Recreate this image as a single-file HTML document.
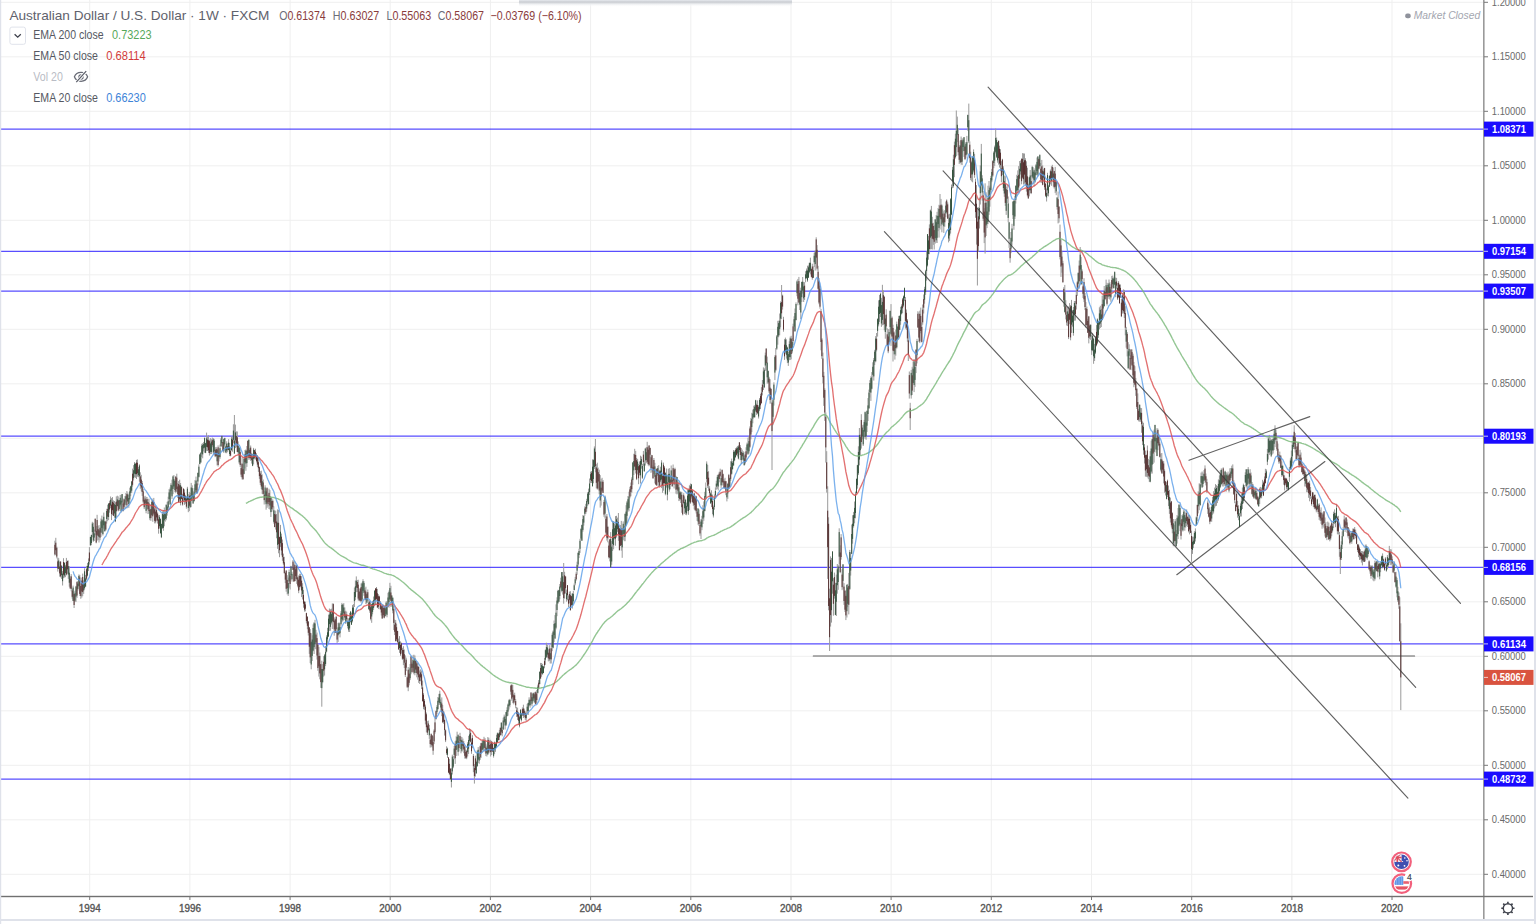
<!DOCTYPE html>
<html><head><meta charset="utf-8">
<style>
html,body{margin:0;padding:0;background:#fff;overflow:hidden}
body{width:1536px;height:924px;position:relative;font-family:"Liberation Sans",sans-serif}
svg{position:absolute;left:0;top:0}
</style></head><body>
<svg width="1536" height="924" viewBox="0 0 1536 924">
<path d="M0 874.3H1484.0 M0 819.8H1484.0 M0 765.3H1484.0 M0 710.8H1484.0 M0 656.3H1484.0 M0 601.8H1484.0 M0 547.3H1484.0 M0 492.8H1484.0 M0 438.3H1484.0 M0 383.8H1484.0 M0 329.3H1484.0 M0 274.8H1484.0 M0 220.3H1484.0 M0 165.8H1484.0 M0 111.3H1484.0 M0 56.8H1484.0 M0 2.3H1484.0 M89.7 0V896.5 M189.9 0V896.5 M290.1 0V896.5 M390.2 0V896.5 M490.4 0V896.5 M590.6 0V896.5 M690.8 0V896.5 M791.0 0V896.5 M891.1 0V896.5 M991.3 0V896.5 M1091.5 0V896.5 M1191.7 0V896.5 M1291.9 0V896.5 M1392.0 0V896.5" stroke="#efefef" stroke-width="1" fill="none"/>
<path d="M0 129.1H1484.0 M0 251.3H1484.0 M0 291.1H1484.0 M0 436.2H1484.0 M0 567.4H1484.0 M0 643.9H1484.0 M0 779.1H1484.0" stroke="#2a1cff" stroke-width="1.3" fill="none" opacity="0.78"/>
<path d="M54.9 540.7V555.5M55.8 537.8V555.0M56.8 546.7V558.4M57.8 557.5V571.6M58.7 558.2V569.1M59.7 561.7V576.7M60.6 561.5V577.4M61.6 565.6V578.9M62.6 571.1V585.5M63.5 558.2V578.2M64.5 562.5V577.5M65.4 564.9V577.2M66.4 557.9V575.4M67.4 560.5V573.7M68.3 560.5V578.9M69.3 566.2V586.7M70.2 576.3V589.0M71.2 574.1V591.3M72.2 589.1V598.7M73.1 585.6V601.0M74.1 591.6V608.0M75.0 590.6V602.1M76.0 585.8V601.9M77.0 581.3V597.9M77.9 581.0V590.6M78.9 574.5V586.7M79.8 574.9V595.9M80.8 583.2V598.8M81.8 577.6V597.6M82.7 573.6V596.2M83.7 580.4V593.9M84.6 568.3V589.6M85.6 574.9V586.9M86.6 565.9V580.2M87.5 562.9V576.4M88.5 558.4V571.1M89.4 547.1V564.6M90.4 536.8V545.9M91.4 534.8V545.2M92.3 521.8V537.2M93.3 522.7V541.8M94.2 529.5V541.0M95.2 518.3V535.3M96.2 526.0V543.3M97.1 514.8V540.7M98.1 526.0V540.0M99.0 525.0V542.5M100.0 527.3V540.3M101.0 518.5V536.9M101.9 515.6V532.9M102.9 519.4V535.5M103.8 512.6V528.6M104.8 521.0V531.6M105.8 520.7V530.6M106.7 508.8V523.6M107.7 504.7V521.2M108.6 503.2V520.0M109.6 500.7V512.7M110.6 496.5V508.2M111.5 498.1V520.1M112.5 497.1V514.9M113.4 500.4V515.9M114.4 501.0V517.7M115.4 502.3V522.1M116.3 496.4V517.3M117.3 495.7V506.5M118.2 496.4V511.4M119.2 499.8V510.7M120.2 494.9V506.5M121.1 494.9V512.6M122.1 494.0V504.4M123.0 501.8V511.6M124.0 498.3V508.7M125.0 496.0V508.7M125.9 493.0V502.5M126.9 491.0V508.4M127.8 492.6V501.6M128.8 494.5V507.8M129.8 487.7V503.4M130.7 485.8V496.2M131.7 480.9V492.8M132.6 468.6V486.6M133.6 465.1V480.5M134.6 462.0V477.3M135.5 463.4V477.8M136.5 459.9V479.0M137.4 459.4V476.7M138.4 466.9V477.2M139.4 464.3V481.7M140.3 472.3V488.8M141.3 474.8V491.4M142.2 481.0V495.9M143.2 488.9V503.3M144.2 496.6V509.1M145.1 495.8V505.2M146.1 496.8V513.3M147.0 497.0V510.0M148.0 498.9V514.1M149.0 498.7V513.7M149.9 508.6V520.2M150.9 504.2V520.8M151.8 498.5V516.1M152.8 500.2V521.8M153.8 497.9V515.0M154.7 508.0V523.4M155.7 505.6V523.3M156.6 508.2V520.7M157.6 512.4V523.6M158.6 515.3V533.7M159.5 515.1V528.5M160.5 518.4V533.8M161.4 523.8V538.1M162.4 511.3V528.9M163.4 510.2V530.8M164.3 507.5V526.3M165.3 512.2V521.6M166.2 504.3V520.2M167.2 501.8V515.6M168.2 496.7V510.4M169.1 489.1V502.2M170.1 487.5V504.8M171.0 483.0V494.3M172.0 479.6V499.0M173.0 475.6V494.2M173.9 475.1V487.5M174.9 480.5V492.1M175.8 476.2V493.2M176.8 473.7V492.0M177.8 483.2V498.1M178.7 481.1V502.2M179.7 479.7V501.4M180.6 483.0V505.4M181.6 486.3V499.3M182.6 493.8V505.6M183.5 488.3V501.7M184.5 489.4V504.8M185.4 494.8V503.7M186.4 496.3V508.7M187.4 486.8V500.7M188.3 494.2V512.2M189.3 491.9V511.1M190.2 492.8V507.9M191.2 482.9V507.2M192.2 485.3V500.9M193.1 491.0V503.9M194.1 488.1V501.4M195.0 480.1V493.1M196.0 476.6V492.5M197.0 479.9V493.6M197.9 472.8V485.3M198.9 464.4V477.5M199.8 453.8V464.5M200.8 452.1V462.6M201.8 443.8V456.9M202.7 443.2V458.3M203.7 441.9V451.4M204.6 437.4V452.8M205.6 442.8V453.2M206.6 432.6V450.9M207.5 436.9V451.0M208.5 435.3V452.9M209.4 439.6V455.6M210.4 438.1V454.2M211.4 439.2V454.0M212.3 437.6V447.2M213.3 438.1V453.9M214.2 438.9V454.7M215.2 447.2V457.2M216.2 446.9V456.7M217.1 448.6V465.4M218.1 445.4V466.5M219.0 448.9V461.4M220.0 444.6V458.8M221.0 438.0V446.5M221.9 435.8V446.6M222.9 442.1V451.4M223.8 438.6V452.9M224.8 437.7V446.4M225.8 445.4V453.2M226.7 441.3V453.2M227.7 443.3V452.1M228.6 439.1V450.3M229.6 442.9V456.1M230.6 448.1V456.3M231.5 436.3V450.4M232.5 437.3V451.7M233.4 424.3V443.3M234.4 415.0V453.8M235.4 424.6V448.1M236.3 431.4V447.2M237.3 431.5V452.0M238.2 441.4V454.9M239.2 447.3V463.8M240.2 448.9V466.9M241.1 463.6V476.9M242.1 457.4V479.5M243.0 464.3V479.5M244.0 456.6V474.3M245.0 450.0V468.4M245.9 449.4V470.8M246.9 446.0V466.9M247.8 440.3V456.8M248.8 439.6V459.8M249.8 448.1V459.5M250.7 445.5V460.9M251.7 452.9V463.6M252.6 453.8V466.2M253.6 447.9V464.4M254.6 449.9V459.3M255.5 448.7V459.5M256.5 453.2V462.4M257.4 455.3V466.9M258.4 457.0V471.9M259.4 466.5V478.9M260.3 471.2V485.0M261.3 470.7V489.1M262.2 474.4V493.9M263.2 479.5V494.8M264.2 490.9V504.5M265.1 485.3V502.2M266.1 489.3V509.7M267.0 487.2V507.9M268.0 494.6V506.5M269.0 488.7V509.0M269.9 490.1V509.5M270.9 497.2V517.0M271.8 498.2V512.0M272.8 499.5V510.4M273.8 506.3V523.6M274.7 510.5V527.3M275.7 510.7V529.6M276.6 514.0V538.3M277.6 509.4V548.8M278.6 510.0V553.3M279.5 536.7V557.2M280.5 524.9V546.9M281.4 533.6V555.3M282.4 539.5V560.8M283.4 553.6V564.8M284.3 556.8V573.6M285.3 571.9V583.1M286.2 570.5V591.7M287.2 575.2V594.4M288.2 577.6V595.9M289.1 569.5V587.8M290.1 573.8V589.5M291.0 565.8V579.6M292.0 571.8V581.6M293.0 559.9V570.0M293.9 563.7V581.8M294.9 561.2V581.3M295.8 567.0V579.0M296.8 565.0V583.9M297.8 576.8V587.3M298.7 575.5V593.2M299.7 573.8V589.8M300.6 573.9V587.3M301.6 576.2V597.1M302.6 583.2V599.5M303.5 589.9V607.7M304.5 600.9V611.6M305.4 601.7V611.4M306.4 612.7V623.4M307.4 616.0V629.2M308.3 621.2V635.5M309.3 627.0V653.9M310.2 629.1V663.1M311.2 633.2V669.3M312.2 635.3V661.0M313.1 624.4V651.3M314.1 622.0V654.0M315.0 619.8V649.2M316.0 629.8V649.1M317.0 632.6V659.6M317.9 643.6V670.8M318.9 647.0V676.6M319.8 652.5V679.3M320.8 664.0V687.9M321.8 660.7V706.7M322.7 664.1V683.2M323.7 656.1V676.6M324.6 653.9V675.5M325.6 645.9V666.1M326.6 635.3V652.4M327.5 627.8V642.9M328.5 614.7V637.1M329.4 608.5V630.9M330.4 609.2V630.7M331.4 608.7V624.5M332.3 603.4V629.0M333.3 603.4V622.4M334.2 617.3V635.7M335.2 618.6V633.0M336.2 616.2V633.1M337.1 630.9V642.9M338.1 622.9V641.9M339.0 622.3V634.5M340.0 623.2V637.4M341.0 611.1V625.7M341.9 602.9V622.4M342.9 604.0V621.4M343.8 603.1V615.9M344.8 607.4V620.2M345.8 610.7V624.0M346.7 611.7V621.2M347.7 618.2V628.4M348.6 618.4V631.8M349.6 612.9V632.0M350.6 610.9V622.4M351.5 612.7V624.8M352.5 605.1V622.4M353.4 604.1V615.8M354.4 587.5V607.0M355.4 580.5V600.3M356.3 576.4V592.2M357.3 580.1V592.0M358.2 579.7V600.5M359.2 590.9V600.7M360.2 588.5V601.6M361.1 583.4V602.6M362.1 582.5V601.0M363.0 579.2V593.0M364.0 581.2V595.8M365.0 588.1V600.5M365.9 586.7V604.1M366.9 593.3V603.5M367.8 589.5V601.0M368.8 599.7V609.4M369.8 600.9V612.8M370.7 603.1V620.4M371.7 603.9V622.8M372.6 600.8V614.3M373.6 596.5V609.9M374.6 590.5V606.3M375.5 588.2V605.0M376.5 587.0V599.7M377.4 588.9V607.7M378.4 594.2V609.1M379.4 595.7V604.8M380.3 601.0V609.7M381.3 605.7V615.5M382.2 604.2V618.9M383.2 604.4V617.3M384.2 605.4V618.4M385.1 605.4V616.5M386.1 601.5V615.6M387.0 601.1V617.3M388.0 592.8V606.8M389.0 590.5V607.7M389.9 582.8V599.8M390.9 585.8V606.9M391.8 595.3V606.6M392.8 597.6V613.3M393.8 605.8V630.1M394.7 619.6V635.1M395.7 620.0V641.6M396.6 623.8V641.2M397.6 630.8V643.5M398.6 638.6V649.5M399.5 636.1V652.9M400.5 641.4V655.9M401.4 642.6V653.6M402.4 647.8V659.9M403.4 646.2V665.1M404.3 649.5V668.0M405.3 655.4V677.0M406.2 657.6V671.1M407.2 676.4V688.0M408.2 667.0V691.2M409.1 669.2V685.4M410.1 664.0V680.1M411.0 655.8V674.3M412.0 661.7V672.6M413.0 655.3V670.7M413.9 654.7V674.3M414.9 655.5V675.3M415.8 660.6V672.9M416.8 661.4V677.3M417.8 663.0V679.7M418.7 666.5V682.9M419.7 670.5V684.0M420.6 669.3V681.3M421.6 670.6V689.0M422.6 680.6V701.6M423.5 693.1V709.3M424.5 699.1V709.8M425.4 704.6V724.4M426.4 712.5V732.4M427.4 721.2V735.0M428.3 720.6V731.3M429.3 724.9V738.9M430.2 735.9V747.6M431.2 733.4V747.1M432.2 735.3V747.5M433.1 736.4V754.8M434.1 729.3V744.1M435.0 718.1V733.6M436.0 710.6V719.6M437.0 705.1V714.1M437.9 697.0V709.6M438.9 693.9V705.1M439.8 690.7V704.9M440.8 699.4V710.6M441.8 697.4V716.2M442.7 705.0V723.1M443.7 711.2V723.8M444.6 719.8V735.6M445.6 729.4V742.1M446.6 746.3V754.9M447.5 747.6V757.9M448.5 757.3V772.9M449.4 758.9V775.1M450.4 768.4V779.8M451.4 768.3V787.5M452.3 754.7V774.5M453.3 756.0V768.2M454.2 745.9V759.3M455.2 741.3V763.9M456.2 736.3V756.0M457.1 731.7V749.4M458.1 734.2V755.7M459.0 736.2V751.5M460.0 732.8V744.1M461.0 736.7V753.3M461.9 737.0V751.9M462.9 738.6V748.4M463.8 741.1V753.2M464.8 746.1V758.6M465.8 749.6V758.9M466.7 749.9V759.2M467.7 742.2V756.4M468.6 735.8V754.0M469.6 728.5V745.7M470.6 729.4V742.3M471.5 738.5V753.8M472.5 735.2V748.2M473.4 754.1V772.2M474.4 764.2V783.6M475.4 755.7V776.6M476.3 760.6V774.0M477.3 750.2V766.7M478.2 747.1V763.0M479.2 753.2V763.8M480.2 745.5V759.8M481.1 742.8V757.8M482.1 740.9V752.7M483.0 739.4V749.7M484.0 736.8V752.2M485.0 738.1V751.0M485.9 743.7V756.1M486.9 745.6V756.5M487.8 737.1V755.0M488.8 737.7V753.5M489.8 742.3V751.4M490.7 739.8V756.5M491.7 741.2V755.0M492.6 742.1V751.8M493.6 747.6V757.6M494.6 741.5V754.2M495.5 742.7V751.8M496.5 734.8V747.7M497.4 732.5V742.7M498.4 732.9V740.6M499.4 729.9V740.2M500.3 727.4V735.3M501.3 722.2V735.1M502.2 726.7V736.3M503.2 717.7V730.0M504.2 714.6V722.8M505.1 716.1V729.5M506.1 711.9V726.0M507.0 707.3V716.2M508.0 703.5V715.7M509.0 699.4V709.6M509.9 698.8V707.3M510.9 684.7V694.7M511.8 684.0V700.7M512.8 684.9V703.2M513.8 693.8V704.4M514.7 692.7V702.4M515.7 699.1V708.3M516.6 707.0V716.9M517.6 707.7V720.0M518.6 712.0V724.6M519.5 715.6V727.4M520.5 709.1V719.2M521.4 712.9V721.6M522.4 707.4V716.0M523.4 704.7V718.0M524.3 708.6V717.0M525.3 711.6V720.1M526.2 711.3V720.9M527.2 703.9V714.5M528.2 702.8V715.0M529.1 697.3V706.3M530.1 699.1V707.7M531.0 692.3V705.0M532.0 694.2V706.3M533.0 692.7V702.6M533.9 692.6V700.0M534.9 691.9V703.4M535.8 691.4V704.4M536.8 689.9V702.8M537.8 684.6V693.6M538.7 680.1V689.5M539.7 671.7V684.5M540.6 662.9V678.8M541.6 663.0V676.8M542.6 663.9V674.8M543.5 666.1V673.1M544.5 657.9V668.3M545.4 649.4V664.8M546.4 642.7V658.0M547.4 644.8V657.4M548.3 649.5V661.4M549.3 645.2V661.0M550.2 648.3V663.5M551.2 642.7V663.5M552.2 633.2V651.2M553.1 630.5V648.3M554.1 620.5V642.1M555.0 615.1V639.0M556.0 604.4V629.3M557.0 597.3V616.2M557.9 589.8V604.0M558.9 589.9V601.9M559.8 584.0V599.3M560.8 577.7V588.6M561.8 572.1V592.3M562.7 572.0V594.6M563.7 563.0V603.7M564.6 571.8V598.6M565.6 576.3V593.5M566.6 589.6V601.7M567.5 585.1V600.3M568.5 595.5V607.0M569.4 591.6V603.4M570.4 591.2V610.8M571.4 595.8V606.2M572.3 593.1V608.6M573.3 590.9V603.8M574.2 583.5V590.4M575.2 576.9V585.3M576.2 571.7V580.6M577.1 561.7V574.8M578.1 552.5V566.9M579.0 548.7V558.1M580.0 538.8V552.9M581.0 528.2V540.5M581.9 524.6V540.9M582.9 515.2V531.7M583.8 515.7V525.6M584.8 506.4V515.9M585.8 503.8V514.1M586.7 498.8V511.6M587.7 492.2V505.8M588.6 488.6V504.6M589.6 478.5V495.0M590.6 471.7V483.1M591.5 471.0V483.0M592.5 459.4V486.3M593.4 459.4V483.3M594.4 446.4V469.0M595.4 439.0V472.3M596.3 464.1V488.4M597.3 462.7V489.6M598.2 467.6V488.7M599.2 469.7V494.3M600.2 475.1V507.6M601.1 478.8V505.6M602.1 477.8V492.1M603.0 480.0V493.2M604.0 500.1V516.8M605.0 495.5V518.5M605.9 515.7V534.4M606.9 514.0V540.6M607.8 525.9V542.3M608.8 541.4V558.5M609.8 538.9V561.4M610.7 532.1V567.6M611.7 541.0V564.8M612.6 520.7V551.0M613.6 521.3V549.3M614.6 523.7V539.4M615.5 516.1V545.7M616.5 515.8V537.6M617.4 517.6V531.9M618.4 513.0V540.8M619.4 528.2V550.4M620.3 525.0V546.1M621.3 520.9V550.7M622.2 527.9V557.8M623.2 521.4V539.9M624.2 525.9V541.2M625.1 513.7V541.2M626.1 505.2V525.9M627.0 500.9V522.9M628.0 496.0V511.6M629.0 491.7V511.3M629.9 486.8V498.4M630.9 482.5V496.3M631.8 477.3V492.8M632.8 462.1V484.8M633.8 453.8V475.0M634.7 448.8V467.1M635.7 450.9V473.5M636.6 458.0V480.1M637.6 458.9V474.5M638.6 463.8V484.2M639.5 461.4V475.4M640.5 455.7V483.5M641.4 456.6V468.7M642.4 463.9V478.9M643.4 450.9V465.7M644.3 460.4V472.0M645.3 448.0V465.5M646.2 447.2V463.1M647.2 441.8V463.5M648.2 446.4V465.5M649.1 445.3V466.3M650.1 447.6V457.9M651.0 454.7V472.9M652.0 455.2V471.7M653.0 465.5V478.7M653.9 458.0V474.0M654.9 462.8V483.4M655.8 473.1V485.1M656.8 468.5V485.7M657.8 465.9V476.0M658.7 465.2V486.9M659.7 469.9V487.3M660.6 466.7V482.1M661.6 460.2V488.1M662.6 473.7V492.8M663.5 462.6V490.7M664.5 466.1V483.9M665.4 472.4V495.3M666.4 468.5V487.6M667.4 475.5V500.4M668.3 468.8V487.7M669.3 468.1V491.7M670.2 475.8V489.3M671.2 465.5V484.0M672.2 476.7V486.8M673.1 464.5V483.5M674.1 468.4V488.5M675.0 467.7V478.0M676.0 475.9V493.7M677.0 477.0V494.4M677.9 482.0V493.7M678.9 481.5V501.1M679.8 491.1V500.6M680.8 491.4V503.0M681.8 492.1V512.8M682.7 499.9V515.4M683.7 493.3V504.3M684.6 496.4V513.9M685.6 498.8V514.7M686.6 502.6V515.2M687.5 489.4V511.1M688.5 489.1V514.8M689.4 485.3V510.1M690.4 483.5V503.9M691.4 483.9V498.6M692.3 489.3V502.7M693.3 495.4V506.0M694.2 492.7V509.4M695.2 495.6V510.9M696.2 495.8V513.5M697.1 508.1V520.9M698.1 508.4V524.8M699.0 509.5V526.0M700.0 520.5V535.7M701.0 519.1V539.0M701.9 515.8V530.2M702.9 505.2V524.0M703.8 501.4V520.8M704.8 491.8V511.2M705.8 482.5V499.5M706.7 461.4V482.4M707.7 464.9V487.9M708.6 471.2V490.9M709.6 486.2V496.4M710.6 492.4V503.6M711.5 490.3V507.1M712.5 494.6V514.2M713.4 505.6V517.5M714.4 494.5V509.7M715.4 487.4V498.7M716.3 480.7V489.7M717.3 475.2V488.9M718.2 474.2V490.4M719.2 471.8V482.3M720.2 468.7V477.5M721.1 475.6V487.9M722.1 469.3V485.6M723.0 473.6V484.9M724.0 479.0V488.5M725.0 477.8V488.5M725.9 481.1V495.2M726.9 488.8V501.4M727.8 482.8V498.9M728.8 473.9V489.5M729.8 477.6V488.1M730.7 461.2V480.9M731.7 458.6V474.7M732.6 461.2V469.8M733.6 450.0V465.6M734.6 450.6V461.2M735.5 448.2V457.9M736.5 447.3V455.6M737.4 446.1V456.5M738.4 445.2V459.4M739.4 442.1V452.2M740.3 445.1V460.1M741.3 448.0V464.0M742.2 449.6V459.8M743.2 451.2V461.0M744.2 455.7V465.5M745.1 451.8V464.4M746.1 447.3V461.6M747.0 442.6V454.5M748.0 437.7V454.8M749.0 436.0V453.7M749.9 426.4V447.9M750.9 417.9V439.4M751.8 412.8V432.1M752.8 409.6V423.3M753.8 405.7V417.5M754.7 405.2V417.6M755.7 399.8V411.9M756.6 403.7V414.9M757.6 400.4V414.2M758.6 405.5V418.5M759.5 398.1V411.1M760.5 393.9V409.1M761.4 387.2V403.7M762.4 380.0V395.4M763.4 367.4V390.0M764.3 368.3V388.1M765.3 352.6V370.8M766.2 348.2V370.6M767.2 356.6V383.6M768.2 370.5V383.7M769.1 376.8V393.2M770.1 379.2V403.7M771.0 388.4V403.4M772.0 401.8V470.0M773.0 399.4V425.2M773.9 382.3V405.6M774.9 355.3V380.1M775.8 348.0V371.1M776.8 335.0V349.9M777.8 320.8V344.7M778.7 320.7V337.3M779.7 313.5V335.3M780.6 301.4V327.3M781.6 285.0V319.1M782.6 294.7V309.6M783.5 316.8V331.7M784.5 339.2V359.9M785.4 337.6V353.6M786.4 339.3V358.6M787.4 346.7V363.1M788.3 352.0V365.9M789.3 341.3V360.2M790.2 336.6V360.0M791.2 335.8V359.4M792.2 338.0V353.4M793.1 323.7V345.1M794.1 316.3V331.4M795.0 308.5V332.0M796.0 302.4V320.5M797.0 280.4V296.2M797.9 278.9V305.3M798.9 276.9V302.8M799.8 291.8V310.0M800.8 287.7V319.0M801.8 281.8V302.0M802.7 277.0V293.6M803.7 282.1V302.0M804.6 282.2V300.0M805.6 271.2V282.3M806.6 268.5V278.5M807.5 265.7V281.8M808.5 265.5V277.7M809.4 262.5V273.2M810.4 257.7V274.4M811.4 268.4V277.1M812.3 263.7V279.7M813.3 266.3V278.0M814.2 252.8V267.1M815.2 250.4V270.6M816.2 237.3V258.1M817.1 245.1V270.5M818.1 265.8V289.5M819.0 278.0V304.2M820.0 285.9V308.7M821.0 308.9V350.3M821.9 338.1V358.9M822.9 352.6V383.4M823.8 371.9V405.9M824.8 388.3V420.9M825.8 412.5V462.6M826.7 451.2V492.6M827.7 486.3V578.9M828.6 517.3V610.3M829.6 588.7V651.0M830.6 556.4V626.6M831.5 558.0V622.6M832.5 551.3V593.7M833.4 578.1V615.7M834.4 572.6V598.6M835.4 582.8V615.1M836.3 574.6V616.0M837.3 564.0V593.7M838.2 564.7V589.8M839.2 528.3V564.2M840.2 545.3V573.2M841.1 534.1V559.6M842.1 569.2V590.2M843.0 564.0V588.8M844.0 583.1V604.9M845.0 589.9V612.0M845.9 594.6V620.1M846.9 584.4V617.5M847.8 583.9V607.1M848.8 572.9V614.4M849.8 549.9V589.9M850.7 552.4V575.6M851.7 524.5V554.0M852.6 515.2V543.7M853.6 511.9V527.6M854.6 501.5V523.3M855.5 491.6V518.3M856.5 478.4V494.4M857.4 464.8V488.7M858.4 446.3V475.1M859.4 428.0V465.4M860.3 434.6V455.1M861.3 414.2V448.6M862.2 425.2V439.3M863.2 424.6V446.0M864.2 419.9V437.4M865.1 411.5V438.8M866.1 414.1V439.8M867.0 410.3V432.0M868.0 398.1V421.0M869.0 389.6V408.7M869.9 380.1V397.6M870.9 376.3V400.9M871.8 372.1V389.4M872.8 362.3V377.4M873.8 358.0V380.6M874.7 349.8V365.1M875.7 336.1V362.3M876.6 333.0V351.4M877.6 318.3V336.6M878.6 300.3V326.4M879.5 294.9V321.9M880.5 292.7V317.0M881.4 297.9V326.9M882.4 284.8V325.3M883.4 290.3V324.8M884.3 295.9V330.3M885.3 315.2V338.7M886.2 309.3V329.7M887.2 328.3V345.6M888.2 329.2V353.2M889.1 329.3V343.2M890.1 310.4V333.2M891.0 304.1V345.9M892.0 316.4V336.8M893.0 324.7V361.5M893.9 331.3V354.4M894.9 342.6V359.6M895.8 329.6V355.7M896.8 321.6V348.5M897.8 326.4V340.2M898.7 315.9V337.6M899.7 315.7V330.0M900.6 306.8V324.8M901.6 304.3V314.5M902.6 298.0V313.2M903.5 295.5V306.8M904.5 287.5V301.1M905.4 297.0V328.6M906.4 309.5V329.8M907.4 319.1V341.7M908.3 330.4V361.0M909.3 371.5V398.6M910.2 402.8V430.0M911.2 369.9V398.6M912.2 366.8V395.0M913.1 361.4V383.3M914.1 359.0V392.1M915.0 363.2V386.9M916.0 349.4V373.1M917.0 338.9V363.4M917.9 311.2V327.7M918.9 312.4V341.9M919.8 310.7V343.1M920.8 307.6V333.3M921.8 322.5V342.5M922.7 304.5V324.7M923.7 294.5V313.5M924.6 286.8V303.7M925.6 269.8V294.9M926.6 251.3V280.7M927.5 234.1V266.5M928.5 235.9V259.7M929.4 224.4V254.2M930.4 209.6V249.4M931.4 205.9V249.2M932.3 216.8V249.5M933.3 222.8V244.9M934.2 225.4V249.5M935.2 219.3V243.6M936.2 215.1V242.7M937.1 211.8V243.0M938.1 208.0V231.2M939.0 204.8V237.6M940.0 194.0V229.5M941.0 198.9V226.1M941.9 204.5V232.3M942.9 209.4V225.1M943.8 211.3V232.9M944.8 210.1V226.8M945.8 201.5V217.2M946.7 199.4V213.5M947.7 202.4V219.0M948.6 214.4V242.4M949.6 213.8V240.9M950.6 198.2V233.6M951.5 184.5V215.1M952.5 167.0V188.2M953.4 154.7V187.6M954.4 141.6V177.2M955.4 133.7V158.6M956.3 110.5V156.2M957.3 116.6V142.1M958.2 128.2V155.4M959.2 145.3V164.1M960.2 140.7V162.9M961.1 136.5V164.6M962.1 138.4V165.0M963.0 138.6V151.4M964.0 137.0V156.9M965.0 145.4V160.1M965.9 142.0V158.4M966.9 135.9V155.4M967.8 114.6V130.8M968.8 103.6V143.1M969.8 141.4V162.7M970.7 151.7V180.2M971.7 160.7V181.4M972.6 155.9V182.3M973.6 149.4V172.4M974.6 153.8V177.8M975.5 178.7V217.8M976.5 185.1V244.6M977.4 208.6V285.5M978.4 207.2V251.9M979.4 197.5V228.5M980.3 165.4V204.5M981.3 143.9V186.1M982.2 175.2V200.6M983.2 191.0V221.0M984.2 208.2V243.1M985.1 183.3V253.6M986.1 192.3V236.0M987.0 207.1V228.1M988.0 185.7V224.2M989.0 181.0V214.9M989.9 185.7V206.7M990.9 175.9V191.8M991.8 168.9V182.2M992.8 160.3V176.8M993.8 151.3V168.2M994.7 145.6V165.9M995.7 128.6V153.4M996.6 137.5V158.0M997.6 142.2V162.7M998.6 140.4V164.7M999.5 145.7V167.6M1000.5 149.2V171.2M1001.4 161.2V182.3M1002.4 158.8V175.1M1003.4 166.3V190.8M1004.3 175.5V196.8M1005.3 176.2V205.9M1006.2 186.7V214.9M1007.2 184.9V203.0M1008.2 196.5V222.3M1009.1 221.8V247.9M1010.1 242.2V262.7M1011.0 232.0V253.2M1012.0 223.8V245.7M1013.0 201.4V219.0M1013.9 199.7V229.8M1014.9 195.8V219.0M1015.8 185.3V203.5M1016.8 174.8V196.3M1017.8 170.4V193.5M1018.7 166.1V191.6M1019.7 161.0V185.8M1020.6 160.5V174.6M1021.6 158.2V184.3M1022.6 153.1V178.7M1023.5 153.4V184.5M1024.5 153.5V183.7M1025.4 158.2V185.5M1026.4 161.3V191.6M1027.4 167.7V196.5M1028.3 183.7V199.0M1029.3 176.8V196.4M1030.2 170.0V193.3M1031.2 174.9V194.1M1032.2 165.8V177.9M1033.1 167.1V184.0M1034.1 168.4V186.4M1035.0 172.1V182.9M1036.0 163.9V175.5M1037.0 157.5V173.2M1037.9 156.0V176.8M1038.9 158.4V169.5M1039.8 154.3V167.4M1040.8 163.0V182.6M1041.8 159.9V183.1M1042.7 165.4V185.3M1043.7 168.7V181.5M1044.6 167.8V189.8M1045.6 183.4V196.8M1046.6 188.5V201.5M1047.5 172.8V195.9M1048.5 185.1V196.4M1049.4 175.2V187.0M1050.4 169.5V184.4M1051.4 166.2V185.8M1052.3 164.8V179.5M1053.3 167.5V186.5M1054.2 170.8V188.6M1055.2 166.9V193.1M1056.2 181.7V195.2M1057.1 197.0V209.6M1058.1 191.5V223.4M1059.0 206.3V222.6M1060.0 224.6V259.4M1061.0 239.7V276.9M1061.9 250.8V272.7M1062.9 260.8V282.7M1063.8 287.2V306.7M1064.8 284.9V312.6M1065.8 300.2V319.4M1066.7 311.6V325.5M1067.7 306.8V326.1M1068.6 306.6V339.1M1069.6 303.1V324.2M1070.6 305.0V340.3M1071.5 299.9V332.9M1072.5 310.2V326.6M1073.4 307.0V335.7M1074.4 301.0V320.7M1075.4 301.0V320.6M1076.3 289.5V309.5M1077.3 281.2V295.9M1078.2 272.3V289.6M1079.2 260.5V288.7M1080.2 247.0V279.4M1081.1 256.9V284.9M1082.1 269.4V284.0M1083.0 283.9V298.0M1084.0 278.2V302.1M1085.0 293.0V310.1M1085.9 302.1V327.7M1086.9 306.6V326.6M1087.8 318.9V332.8M1088.8 315.9V343.4M1089.8 324.5V339.0M1090.7 324.2V339.9M1091.7 335.1V354.9M1092.6 332.8V351.2M1093.6 337.9V363.8M1094.6 343.9V361.0M1095.5 336.2V353.9M1096.5 325.1V346.4M1097.4 318.4V344.2M1098.4 320.9V337.9M1099.4 307.3V329.3M1100.3 305.7V328.0M1101.3 308.9V327.1M1102.2 295.7V320.3M1103.2 293.2V316.2M1104.2 286.0V306.6M1105.1 288.5V300.2M1106.1 279.6V296.9M1107.0 282.8V305.5M1108.0 283.3V297.4M1109.0 279.5V298.9M1109.9 282.2V299.6M1110.9 284.2V301.8M1111.8 275.9V292.4M1112.8 275.6V287.3M1113.8 277.4V288.5M1114.7 271.4V284.7M1115.7 277.6V297.2M1116.6 277.9V288.7M1117.6 283.0V300.0M1118.6 281.1V298.0M1119.5 283.9V303.9M1120.5 284.5V298.0M1121.4 299.0V317.1M1122.4 293.3V313.6M1123.4 289.4V312.8M1124.3 289.9V318.0M1125.3 306.2V335.3M1126.2 326.9V347.7M1127.2 332.1V356.4M1128.2 342.2V369.2M1129.1 344.3V359.0M1130.1 355.0V369.6M1131.0 349.1V364.4M1132.0 349.4V370.2M1133.0 353.7V378.9M1133.9 361.9V387.2M1134.9 366.2V385.3M1135.8 377.9V395.9M1136.8 388.1V409.0M1137.8 393.4V420.2M1138.7 409.0V421.4M1139.7 404.3V421.7M1140.6 407.8V421.8M1141.6 408.1V432.8M1142.6 421.4V445.1M1143.5 422.8V454.7M1144.5 444.1V463.5M1145.4 450.6V476.6M1146.4 454.5V476.8M1147.4 445.5V477.4M1148.3 458.9V479.2M1149.3 459.9V481.9M1150.2 451.1V482.3M1151.2 440.6V473.5M1152.2 438.7V473.6M1153.1 431.4V464.0M1154.1 429.6V462.6M1155.0 424.9V441.8M1156.0 431.4V452.5M1157.0 428.2V456.2M1157.9 428.6V450.2M1158.9 433.8V446.3M1159.8 442.1V457.5M1160.8 453.6V471.4M1161.8 453.0V474.0M1162.7 460.5V473.6M1163.7 461.1V483.4M1164.6 469.4V492.7M1165.6 481.0V495.5M1166.6 482.2V499.4M1167.5 479.6V497.0M1168.5 485.5V506.1M1169.4 489.8V513.9M1170.4 497.6V522.5M1171.4 500.9V527.5M1172.3 512.3V533.3M1173.3 519.0V546.2M1174.2 524.8V544.8M1175.2 519.1V546.0M1176.2 530.1V546.8M1177.1 515.0V543.6M1178.1 508.0V539.1M1179.0 503.9V526.4M1180.0 505.3V531.2M1181.0 519.9V539.5M1181.9 515.1V529.4M1182.9 514.1V531.5M1183.8 509.5V523.8M1184.8 510.5V530.7M1185.8 512.5V527.5M1186.7 509.5V526.0M1187.7 516.2V527.0M1188.6 515.0V532.4M1189.6 514.9V534.4M1190.6 522.3V532.9M1191.5 530.7V561.7M1192.5 536.6V553.9M1193.4 536.7V548.2M1194.4 531.2V544.1M1195.4 528.4V541.5M1196.3 516.3V525.7M1197.3 504.8V521.0M1198.2 491.2V513.4M1199.2 483.4V510.2M1200.2 483.4V505.5M1201.1 472.6V485.6M1202.1 471.5V488.1M1203.0 472.7V486.8M1204.0 470.1V482.8M1205.0 465.4V480.5M1205.9 473.5V485.4M1206.9 478.8V493.1M1207.8 500.4V513.9M1208.8 504.2V517.5M1209.8 507.1V524.2M1210.7 510.0V521.8M1211.7 503.7V521.8M1212.6 497.0V514.7M1213.6 491.2V513.5M1214.6 487.6V508.4M1215.5 484.1V506.3M1216.5 485.2V505.8M1217.4 486.1V503.1M1218.4 479.4V500.6M1219.4 475.4V494.7M1220.3 470.2V488.2M1221.3 468.4V484.8M1222.2 475.5V486.3M1223.2 467.3V486.6M1224.2 472.2V485.5M1225.1 470.7V486.3M1226.1 472.1V491.7M1227.0 473.0V487.9M1228.0 471.6V489.2M1229.0 474.2V492.4M1229.9 468.3V485.5M1230.9 468.0V480.4M1231.8 465.7V476.5M1232.8 464.4V486.9M1233.8 480.3V495.0M1234.7 482.9V503.2M1235.7 501.5V511.4M1236.6 492.5V507.1M1237.6 500.9V517.7M1238.6 505.3V520.2M1239.5 513.1V527.3M1240.5 503.4V516.5M1241.4 493.4V516.5M1242.4 487.5V509.0M1243.4 483.7V503.4M1244.3 485.1V499.9M1245.3 472.3V482.9M1246.2 469.0V487.4M1247.2 469.0V488.9M1248.2 467.1V483.2M1249.1 472.6V489.2M1250.1 469.2V489.2M1251.0 472.5V486.7M1252.0 482.0V494.7M1253.0 483.9V496.6M1253.9 489.0V498.8M1254.9 488.6V498.4M1255.8 487.8V499.6M1256.8 490.5V500.3M1257.8 495.7V505.3M1258.7 497.3V506.6M1259.7 487.6V504.1M1260.6 486.9V497.8M1261.6 487.6V498.3M1262.6 479.8V493.6M1263.5 481.4V496.1M1264.5 476.5V489.9M1265.4 468.8V483.4M1266.4 469.4V478.2M1267.4 448.9V465.1M1268.3 437.3V459.6M1269.3 434.9V455.1M1270.2 437.7V454.1M1271.2 438.9V457.1M1272.2 439.1V454.5M1273.1 438.3V453.5M1274.1 430.8V450.1M1275.0 425.3V447.1M1276.0 429.8V442.2M1277.0 437.3V451.0M1277.9 443.6V459.2M1278.9 454.0V463.7M1279.8 451.6V463.3M1280.8 455.0V468.2M1281.8 461.3V476.8M1282.7 464.8V476.2M1283.7 471.4V484.7M1284.6 475.4V490.4M1285.6 477.7V485.2M1286.6 477.9V489.4M1287.5 480.2V489.3M1288.5 482.1V490.4M1289.4 466.9V481.8M1290.4 458.3V469.6M1291.4 450.6V469.6M1292.3 442.2V463.4M1293.3 435.8V448.9M1294.2 425.3V449.0M1295.2 433.1V452.5M1296.2 446.7V459.2M1297.1 443.6V459.0M1298.1 442.3V460.6M1299.0 456.6V467.9M1300.0 449.8V467.4M1301.0 452.5V467.3M1301.9 463.3V472.4M1302.9 464.7V474.8M1303.8 466.7V476.4M1304.8 470.0V486.5M1305.8 472.0V486.5M1306.7 474.8V492.2M1307.7 481.6V492.3M1308.6 481.9V497.8M1309.6 480.6V501.3M1310.6 487.0V498.8M1311.5 496.4V505.6M1312.5 491.9V501.7M1313.4 492.3V507.1M1314.4 494.7V509.2M1315.4 494.7V508.8M1316.3 504.8V512.3M1317.3 498.7V510.1M1318.2 503.9V514.0M1319.2 503.3V520.0M1320.2 509.8V521.0M1321.1 507.4V523.9M1322.1 512.4V528.7M1323.0 513.1V526.8M1324.0 511.2V528.3M1325.0 517.5V536.5M1325.9 522.1V538.2M1326.9 528.2V540.2M1327.8 521.6V536.6M1328.8 522.6V539.9M1329.8 526.6V541.3M1330.7 524.7V540.1M1331.7 520.5V536.3M1332.6 523.6V531.6M1333.6 511.7V528.1M1334.6 509.4V524.1M1335.5 512.8V527.2M1336.5 504.5V522.0M1337.4 516.2V534.3M1338.4 515.8V534.5M1339.4 531.9V556.8M1340.3 546.7V574.0M1341.3 541.3V560.0M1342.2 531.4V549.0M1343.2 526.9V536.6M1344.2 515.5V527.7M1345.1 518.2V531.9M1346.1 517.3V528.7M1347.0 519.4V532.8M1348.0 527.1V537.5M1349.0 528.4V539.4M1349.9 530.9V544.4M1350.9 533.9V542.2M1351.8 531.3V543.8M1352.8 528.5V540.1M1353.8 528.4V539.6M1354.7 527.0V535.6M1355.7 529.6V538.4M1356.6 533.0V544.3M1357.6 544.0V552.1M1358.6 543.9V557.1M1359.5 546.7V559.9M1360.5 549.2V559.5M1361.4 551.0V562.6M1362.4 551.1V565.4M1363.4 551.9V562.0M1364.3 550.5V561.8M1365.3 544.7V561.4M1366.2 544.5V558.4M1367.2 546.3V559.7M1368.2 548.6V556.7M1369.1 560.4V569.5M1370.1 564.9V573.7M1371.0 566.4V578.7M1372.0 565.1V575.4M1373.0 568.5V580.4M1373.9 569.3V581.3M1374.9 560.6V580.5M1375.8 561.5V571.4M1376.8 561.3V571.3M1377.8 560.9V577.3M1378.7 562.4V572.4M1379.7 563.0V579.3M1380.6 561.7V572.2M1381.6 555.7V566.1M1382.6 553.4V568.3M1383.5 558.6V567.5M1384.5 563.5V570.7M1385.4 557.2V565.4M1386.4 563.4V571.7M1387.4 555.1V569.4M1388.3 558.1V567.4M1389.3 545.9V563.1M1390.2 549.1V565.2M1391.2 549.4V564.9M1392.2 556.3V565.7M1393.1 563.4V572.6M1394.1 561.3V573.4M1395.0 572.1V582.5M1396.0 571.8V587.7M1397.0 577.8V597.3M1397.9 586.8V602.0M1398.9 592.4V608.8M1399.8 597.3V641.3M1400.8 623.3V710.1" stroke="#9a9a9a" stroke-width="1" fill="none"/>
<path d="M58.7 560.5V568.9M61.6 565.6V575.1M62.6 573.7V581.2M64.5 562.8V575.5M65.4 566.5V573.0M68.3 566.1V574.6M69.3 572.7V582.7M73.1 587.6V600.9M75.0 593.3V600.7M76.0 586.6V596.6M77.9 583.7V588.9M78.9 576.0V585.9M83.7 583.6V590.5M84.6 571.3V588.1M85.6 578.4V586.5M87.5 565.9V575.5M88.5 562.0V567.8M90.4 536.9V545.1M91.4 534.9V543.0M92.3 523.5V532.1M93.3 526.8V540.5M94.2 533.3V537.6M99.0 530.3V537.0M101.0 521.4V532.6M101.9 519.6V527.9M102.9 520.6V534.1M103.8 516.8V525.3M104.8 521.5V531.2M106.7 511.0V519.0M108.6 503.6V517.0M110.6 499.8V505.6M114.4 504.2V513.5M115.4 505.0V521.2M117.3 499.4V506.0M119.2 500.1V508.9M120.2 497.8V504.6M121.1 500.6V511.1M122.1 494.1V502.6M125.0 499.5V504.8M125.9 496.3V499.4M127.8 494.5V501.4M128.8 498.0V504.0M129.8 491.4V499.4M130.7 486.4V492.8M131.7 481.5V490.7M133.6 470.2V478.2M134.6 463.7V473.7M135.5 463.7V474.2M138.4 469.2V475.2M139.4 465.5V476.3M146.1 500.2V510.9M149.9 509.9V518.2M151.8 501.9V514.9M159.5 517.1V526.2M160.5 519.1V533.0M161.4 523.9V537.2M162.4 514.1V527.9M163.4 514.7V527.9M164.3 513.6V520.4M165.3 514.2V519.0M166.2 504.9V518.4M167.2 506.6V512.7M168.2 501.3V507.5M169.1 492.4V499.0M170.1 489.6V504.4M171.0 484.8V490.7M172.0 485.4V496.3M173.0 476.5V489.0M173.9 479.2V486.3M174.9 480.9V490.0M180.6 485.3V503.0M185.4 496.0V501.4M187.4 488.7V500.0M188.3 497.8V508.1M190.2 495.4V507.0M191.2 487.5V500.9M192.2 488.2V497.2M193.1 495.1V503.4M194.1 492.3V501.2M195.0 484.3V492.7M196.0 480.7V490.1M197.9 472.8V481.5M198.9 466.7V476.8M199.8 454.6V464.0M200.8 453.1V462.5M201.8 445.7V453.5M202.7 444.9V454.4M203.7 443.9V448.3M204.6 438.1V447.6M205.6 443.2V452.8M206.6 438.4V446.9M210.4 443.4V451.9M211.4 441.6V452.0M213.3 439.4V452.4M214.2 440.7V451.2M217.1 449.6V461.3M219.0 453.2V457.2M220.0 448.1V457.1M221.0 439.6V446.3M221.9 435.9V443.1M223.8 439.1V451.3M224.8 438.1V444.5M225.8 446.4V452.3M226.7 443.6V450.6M228.6 442.6V450.0M229.6 446.6V454.0M231.5 438.8V450.3M233.4 430.6V439.9M234.4 440.6V453.5M235.4 432.4V440.3M238.2 446.0V452.4M239.2 447.6V462.3M244.0 458.8V473.9M245.9 450.7V463.5M246.9 450.6V463.1M248.8 439.7V457.9M252.6 456.7V465.8M253.6 449.6V458.9M262.2 481.2V489.8M265.1 487.5V496.5M266.1 491.4V504.2M270.9 497.6V512.1M273.8 510.3V521.8M277.6 522.7V544.9M280.5 531.7V543.2M288.2 583.0V593.6M289.1 572.0V581.4M291.0 566.4V575.2M292.0 573.9V579.3M302.6 586.9V594.0M311.2 641.7V664.5M312.2 639.5V655.9M313.1 628.0V650.6M314.1 623.2V647.1M315.0 623.5V644.1M321.8 669.0V688.1M322.7 669.1V682.0M324.6 655.3V669.3M325.6 651.8V664.0M326.6 637.3V651.5M327.5 632.3V639.3M328.5 618.7V636.4M329.4 614.5V624.1M330.4 611.9V626.9M331.4 614.1V622.6M332.3 612.0V621.3M338.1 627.4V635.3M339.0 623.3V634.0M340.0 626.9V633.2M341.0 613.4V624.2M341.9 604.8V619.2M342.9 604.6V620.3M343.8 607.5V612.8M345.8 614.7V622.4M347.7 621.1V626.0M348.6 621.6V629.7M349.6 617.7V628.4M350.6 611.7V621.6M351.5 616.2V624.7M352.5 607.7V620.8M353.4 607.5V614.5M354.4 592.0V601.1M355.4 586.3V597.1M356.3 580.7V587.6M362.1 583.5V599.6M363.0 581.2V590.8M364.0 583.1V592.7M366.9 594.2V602.6M368.8 602.6V609.3M371.7 604.3V616.5M372.6 603.3V611.9M373.6 600.2V607.9M374.6 590.6V600.9M385.1 608.4V616.1M386.1 602.7V613.8M387.0 605.9V614.8M388.0 597.5V606.5M389.0 592.2V602.1M389.9 588.1V599.2M391.8 595.5V602.8M392.8 597.7V610.5M399.5 641.6V648.0M410.1 667.6V678.2M413.0 659.8V667.8M414.9 658.4V673.0M429.3 728.6V735.3M437.0 706.9V711.9M437.9 700.8V709.1M438.9 697.6V702.3M439.8 693.8V703.2M440.8 701.9V707.5M447.5 748.7V754.8M451.4 772.7V781.9M452.3 756.6V771.4M453.3 759.2V766.6M454.2 748.6V754.9M456.2 740.6V749.9M457.1 736.9V744.6M458.1 735.2V751.8M461.0 739.8V749.0M461.9 740.4V750.7M467.7 743.9V752.2M468.6 740.0V748.7M469.6 734.4V740.9M476.3 761.9V773.1M477.3 751.6V766.1M478.2 749.8V759.6M479.2 756.9V760.6M482.1 743.2V749.8M483.0 740.5V749.5M484.0 740.7V747.9M486.9 748.0V753.1M487.8 740.4V754.3M493.6 748.0V755.9M494.6 742.5V749.9M495.5 743.9V748.8M496.5 738.1V746.4M497.4 733.3V742.3M499.4 732.4V737.2M501.3 722.8V731.7M503.2 720.5V729.4M504.2 716.7V721.8M505.1 719.0V725.5M506.1 712.1V724.7M507.0 710.1V716.2M508.0 704.6V711.6M509.0 700.4V706.1M509.9 699.9V705.1M519.5 717.2V725.6M520.5 710.1V718.3M521.4 713.5V720.2M526.2 714.3V718.2M527.2 706.7V711.2M528.2 702.9V711.1M529.1 699.8V705.3M530.1 700.3V705.3M532.0 697.2V703.8M533.0 693.5V701.1M534.9 694.4V702.4M537.8 686.7V692.9M539.7 671.7V684.0M541.6 665.1V673.4M542.6 665.9V673.8M543.5 666.7V673.0M545.4 650.2V659.7M546.4 647.1V656.9M547.4 647.5V654.6M550.2 653.2V659.2M552.2 634.9V647.1M553.1 631.7V647.7M554.1 624.0V635.1M555.0 623.1V638.4M556.0 612.7V627.7M557.0 600.6V610.0M557.9 591.0V602.9M558.9 590.1V601.7M559.8 586.6V596.0M561.8 572.1V590.8M562.7 576.3V590.9M566.6 593.2V599.2M572.3 593.7V605.0M573.3 593.9V601.3M574.2 585.3V590.0M575.2 579.3V583.4M577.1 564.8V570.7M578.1 552.9V564.5M579.0 551.0V555.0M580.0 540.8V548.8M581.0 529.1V538.6M581.9 525.1V540.6M582.9 519.1V529.9M583.8 515.8V522.6M584.8 508.6V513.8M586.7 501.0V508.6M587.7 493.7V501.6M588.6 491.9V504.0M589.6 483.5V492.2M590.6 474.2V479.9M592.5 466.7V486.3M593.4 460.1V479.0M594.4 448.5V467.1M600.2 481.5V500.5M605.0 497.2V513.6M610.7 539.0V567.5M611.7 546.7V561.5M612.6 529.3V543.9M613.6 522.7V545.2M614.6 528.2V538.2M615.5 525.5V538.7M616.5 519.3V534.9M617.4 521.5V529.1M622.2 529.2V547.4M623.2 523.8V534.1M624.2 528.6V536.8M625.1 513.8V536.6M626.1 511.6V524.6M627.0 502.5V515.8M628.0 499.2V509.6M629.0 496.5V508.0M632.8 462.6V480.1M633.8 461.0V470.3M637.6 461.6V470.2M640.5 461.0V475.3M641.4 459.1V464.6M642.4 466.0V477.7M644.3 463.6V471.0M645.3 448.7V460.4M646.2 452.2V460.0M654.9 466.4V476.8M657.8 468.1V474.4M660.6 470.7V480.4M661.6 462.6V479.5M665.4 472.9V493.8M666.4 474.8V485.1M667.4 482.4V494.7M668.3 474.2V482.4M669.3 473.8V489.5M671.2 470.4V482.9M677.0 477.0V489.1M678.9 487.3V497.9M680.8 492.4V499.4M684.6 502.0V508.3M685.6 499.9V512.5M686.6 505.9V513.5M687.5 495.6V506.6M688.5 490.3V511.1M689.4 489.2V501.6M691.4 484.4V496.5M698.1 508.6V521.5M701.0 521.7V526.3M701.9 519.5V527.3M702.9 511.2V518.7M703.8 508.1V517.4M704.8 496.1V511.1M705.8 487.8V497.3M706.7 463.7V479.0M710.6 493.4V503.4M711.5 494.7V502.3M713.4 507.3V515.5M714.4 497.8V507.0M715.4 491.0V495.4M716.3 483.6V486.7M717.3 477.1V485.5M718.2 475.0V486.5M721.1 478.0V485.3M726.9 493.1V497.3M727.8 483.9V493.4M729.8 478.2V486.9M731.7 461.5V473.8M732.6 463.0V469.0M733.6 451.8V465.5M734.6 451.8V460.3M735.5 449.9V457.0M737.4 447.8V453.5M738.4 446.5V458.5M741.3 451.9V460.1M743.2 452.7V459.7M744.2 458.4V465.2M747.0 444.5V450.5M748.0 443.6V453.7M749.0 441.1V451.3M751.8 418.8V427.0M752.8 413.6V418.7M753.8 409.1V417.2M754.7 406.7V417.2M755.7 400.3V410.5M758.6 407.1V416.5M759.5 399.9V409.3M763.4 371.4V383.9M764.3 369.9V387.2M765.3 355.4V365.5M767.2 362.6V377.3M768.2 371.1V382.3M773.0 400.2V416.8M773.9 384.6V399.8M774.9 357.1V372.6M776.8 336.4V348.6M777.8 326.8V336.7M778.7 323.1V335.4M779.7 320.7V329.1M780.6 303.0V318.6M785.4 339.6V351.6M786.4 345.2V354.8M787.4 347.6V360.3M788.3 354.1V362.6M789.3 344.1V357.0M790.2 338.4V357.2M792.2 341.8V351.3M794.1 319.2V326.5M795.0 313.0V331.0M796.0 304.0V320.0M797.0 281.5V293.2M799.8 292.8V304.6M800.8 290.7V312.5M801.8 281.9V297.2M802.7 281.7V290.6M803.7 286.4V298.4M805.6 274.3V278.6M806.6 270.5V278.1M807.5 270.6V280.4M808.5 267.3V277.7M809.4 263.1V271.9M810.4 262.8V270.8M813.3 270.2V277.7M814.2 255.8V262.2M815.2 252.3V264.1M831.5 571.7V610.2M832.5 551.5V581.3M835.4 590.3V614.9M836.3 582.9V601.8M837.3 569.3V585.2M838.2 566.6V582.0M839.2 532.1V556.7M843.0 564.5V580.9M846.9 584.9V611.2M847.8 587.5V603.8M849.8 552.0V588.9M850.7 558.0V570.6M851.7 534.0V553.8M852.6 523.7V538.9M853.6 515.1V526.0M854.6 507.9V518.0M855.5 494.7V513.0M856.5 479.0V493.0M857.4 465.2V485.2M858.4 451.9V473.3M859.4 434.9V459.6M860.3 437.1V450.2M862.2 427.6V436.4M863.2 430.1V444.4M864.2 422.1V431.6M865.1 412.2V436.9M866.1 422.5V436.3M867.0 411.1V425.7M868.0 405.4V414.0M869.0 392.6V408.3M869.9 383.0V392.2M870.9 378.1V392.6M871.8 377.4V388.7M872.8 366.8V374.8M873.8 360.2V376.4M874.7 351.7V361.2M875.7 338.6V361.2M877.6 319.1V330.9M878.6 306.7V324.4M879.5 299.9V314.0M880.5 294.0V312.9M881.4 305.1V323.5M882.4 301.9V319.9M885.3 318.5V332.0M889.1 332.1V342.0M890.1 311.0V327.0M891.0 318.5V334.4M894.9 344.7V354.3M896.8 324.2V347.3M897.8 326.6V339.3M899.7 315.8V329.8M900.6 310.2V321.1M901.6 306.3V313.6M903.5 296.5V305.5M904.5 288.1V298.1M911.2 372.9V395.3M913.1 368.7V382.9M914.1 361.3V385.1M915.0 367.0V379.9M917.0 341.0V355.2M924.6 289.2V299.7M925.6 271.3V292.2M926.6 257.6V271.1M927.5 234.2V265.4M928.5 240.4V254.0M930.4 210.6V237.7M931.4 211.5V236.3M935.2 219.4V238.2M936.2 222.2V240.3M937.1 215.8V237.8M938.1 215.8V224.1M939.0 209.0V227.9M941.9 205.6V224.4M943.8 217.3V226.3M945.8 205.6V213.4M948.6 222.9V238.5M949.6 217.7V235.5M950.6 199.2V230.0M951.5 187.3V214.5M952.5 169.8V181.2M953.4 159.3V186.0M955.4 138.7V157.2M956.3 130.8V147.1M957.3 124.8V134.7M960.2 145.5V162.4M962.1 141.4V161.7M963.0 140.0V147.0M964.0 137.3V151.0M965.9 143.7V155.1M966.9 142.1V154.2M967.8 115.0V127.1M968.8 120.2V141.4M971.7 162.3V174.6M972.6 157.3V174.3M973.6 152.0V170.5M979.4 208.1V219.3M980.3 171.4V193.2M981.3 153.6V184.8M982.2 178.4V192.5M986.1 202.6V225.4M987.0 211.5V223.9M988.0 198.0V221.9M989.0 190.1V211.6M989.9 187.7V199.7M990.9 178.0V190.1M991.8 172.0V180.4M993.8 152.6V163.0M994.7 147.3V160.7M995.7 137.9V151.8M996.6 139.9V156.8M997.6 142.3V160.3M1003.4 168.7V188.0M1004.3 181.2V193.5M1006.2 189.1V210.8M1008.2 203.5V217.9M1009.1 222.4V238.8M1011.0 237.8V248.5M1012.0 228.5V241.5M1013.0 201.6V215.2M1013.9 200.9V225.8M1014.9 200.7V216.5M1015.8 185.9V199.9M1016.8 179.1V190.7M1017.8 176.0V190.2M1019.7 168.8V178.7M1020.6 163.2V171.4M1029.3 177.4V190.2M1030.2 175.5V190.3M1032.2 167.1V176.7M1033.1 171.8V178.5M1034.1 170.2V180.1M1035.0 172.7V181.6M1036.0 165.3V175.1M1037.0 161.9V171.0M1037.9 156.7V174.7M1039.8 155.1V166.0M1043.7 171.4V177.8M1046.6 192.9V197.4M1047.5 175.1V190.3M1048.5 186.5V193.3M1049.4 175.9V186.7M1051.4 171.3V181.0M1053.3 173.5V182.3M1056.2 182.0V191.4M1057.1 197.7V207.0M1064.8 292.3V311.9M1067.7 311.4V321.0M1071.5 305.9V324.7M1072.5 315.6V322.4M1073.4 309.9V333.0M1074.4 303.0V314.7M1078.2 273.1V283.7M1080.2 254.7V269.5M1081.1 265.1V284.2M1090.7 325.0V336.6M1091.7 340.4V350.3M1092.6 336.1V350.2M1093.6 338.8V356.3M1094.6 349.6V358.2M1095.5 338.2V352.6M1097.4 319.4V342.8M1098.4 321.7V335.2M1099.4 313.4V324.6M1100.3 309.8V323.6M1101.3 314.4V321.7M1103.2 299.6V308.5M1104.2 290.8V306.1M1106.1 285.2V296.0M1108.0 284.9V296.4M1109.0 283.4V296.4M1110.9 289.5V297.4M1112.8 278.3V284.3M1113.8 278.7V288.2M1114.7 272.1V284.6M1115.7 281.8V294.0M1126.2 329.9V341.7M1128.2 351.3V368.1M1129.1 348.9V355.7M1139.7 404.9V417.2M1140.6 412.6V419.6M1143.5 426.9V450.3M1150.2 456.3V481.7M1151.2 448.5V471.6M1152.2 439.2V464.6M1154.1 437.4V451.8M1155.0 424.9V441.1M1156.0 437.7V449.5M1157.0 437.8V456.0M1160.8 459.2V469.7M1166.6 485.1V498.9M1169.4 496.9V508.9M1173.3 523.3V543.2M1175.2 521.3V540.9M1176.2 534.0V546.0M1177.1 518.2V536.4M1178.1 516.4V534.1M1179.0 504.9V525.6M1180.0 508.1V524.2M1182.9 515.6V530.4M1183.8 511.7V521.8M1184.8 515.1V527.3M1185.8 517.5V523.2M1192.5 541.8V549.9M1193.4 540.7V544.6M1194.4 533.0V543.6M1195.4 531.7V538.4M1196.3 517.4V524.9M1198.2 494.7V506.3M1199.2 492.6V504.0M1200.2 484.4V505.2M1201.1 476.1V482.8M1202.1 476.1V487.2M1203.0 476.5V484.0M1204.0 473.9V480.9M1211.7 506.7V518.5M1212.6 500.5V511.2M1213.6 495.1V511.4M1214.6 493.3V502.3M1215.5 489.0V499.8M1216.5 488.0V500.3M1217.4 491.9V497.4M1218.4 483.9V498.8M1219.4 480.3V490.8M1220.3 474.3V486.8M1221.3 469.9V484.1M1225.1 471.5V481.3M1226.1 475.2V485.8M1227.0 474.5V483.2M1229.0 474.8V490.5M1230.9 471.6V478.1M1231.8 468.3V473.8M1238.6 508.8V516.1M1239.5 516.1V526.8M1240.5 505.9V513.3M1241.4 501.4V510.3M1242.4 492.9V504.0M1243.4 485.2V500.8M1245.3 475.0V482.4M1246.2 469.5V486.1M1247.2 473.8V484.7M1248.2 469.4V478.6M1249.1 473.5V484.2M1251.0 475.5V483.8M1253.0 486.1V496.5M1254.9 491.9V495.3M1255.8 490.7V498.6M1258.7 498.5V506.3M1259.7 489.2V499.1M1261.6 490.5V496.2M1262.6 484.6V491.6M1266.4 471.4V478.2M1267.4 453.9V461.7M1268.3 438.6V452.6M1269.3 440.7V452.3M1270.2 440.7V450.4M1271.2 440.2V455.7M1272.2 440.8V450.4M1273.1 438.9V450.5M1274.1 433.9V443.8M1275.0 429.5V440.1M1281.8 465.7V475.0M1282.7 466.0V475.2M1287.5 481.2V486.9M1288.5 482.2V489.7M1289.4 470.4V476.8M1290.4 460.6V469.0M1291.4 456.8V467.1M1292.3 444.9V456.3M1293.3 435.8V447.0M1305.8 474.0V483.7M1317.3 499.5V509.0M1326.9 528.4V537.0M1329.8 531.1V539.0M1332.6 526.3V530.4M1333.6 513.9V523.2M1334.6 512.9V522.2M1335.5 515.6V522.9M1336.5 508.1V517.9M1341.3 544.8V558.0M1342.2 536.2V544.5M1343.2 529.1V536.1M1350.9 535.7V541.9M1351.8 533.0V541.4M1363.4 554.6V560.5M1365.3 549.4V557.1M1366.2 546.1V557.4M1367.2 548.2V557.7M1368.2 550.3V554.0M1372.0 566.4V574.4M1373.0 570.4V576.8M1373.9 572.0V577.8M1374.9 563.2V578.8M1376.8 561.3V571.1M1379.7 563.6V576.4M1380.6 563.8V568.6M1381.6 556.5V565.0M1382.6 555.9V567.4M1386.4 565.1V570.7M1387.4 557.1V566.4M1388.3 558.5V565.0M1389.3 550.9V560.3M1394.1 563.3V570.6M1396.0 576.6V586.6M1397.0 580.1V593.3M1397.9 591.3V600.3" stroke="#30503a" stroke-width="0.95" fill="none"/>
<path d="M54.9 544.8V554.4M55.8 542.7V550.2M56.8 547.8V556.6M57.8 561.4V568.5M59.7 566.5V573.4M60.6 561.5V576.3M63.5 562.0V574.7M66.4 562.0V574.5M67.4 561.0V569.3M70.2 578.7V588.2M71.2 576.4V588.9M72.2 590.6V596.8M74.1 594.1V605.0M77.0 582.1V595.5M79.8 577.4V593.9M80.8 586.0V596.0M81.8 580.6V591.5M82.7 577.0V592.1M86.6 569.2V578.7M89.4 552.5V561.4M95.2 518.9V531.6M96.2 530.8V542.5M97.1 520.0V534.9M98.1 529.1V536.0M100.0 528.3V537.7M105.8 521.7V529.5M107.7 508.9V516.7M109.6 502.9V509.5M111.5 504.6V514.1M112.5 501.8V510.2M113.4 502.7V515.8M116.3 501.6V511.3M118.2 500.4V510.4M123.0 503.4V510.9M124.0 499.3V506.8M126.9 494.1V505.3M132.6 473.7V484.8M136.5 462.6V474.2M137.4 462.8V473.3M140.3 476.4V485.6M141.3 479.6V487.5M142.2 483.1V492.0M143.2 491.4V501.6M144.2 500.1V507.2M145.1 498.6V503.3M147.0 499.0V505.5M148.0 502.0V509.1M149.0 503.4V511.1M150.9 509.0V518.1M152.8 500.6V516.3M153.8 502.0V513.6M154.7 509.4V520.8M155.7 511.6V521.5M156.6 510.1V517.4M157.6 513.7V520.6M158.6 519.3V528.8M175.8 476.7V491.6M176.8 477.7V489.1M177.8 486.5V494.2M178.7 484.0V502.0M179.7 485.3V499.3M181.6 487.1V499.0M182.6 497.6V504.5M183.5 488.8V497.5M184.5 492.6V500.1M186.4 498.3V506.7M189.3 495.8V505.7M197.0 483.5V493.1M207.5 439.7V447.3M208.5 440.3V450.3M209.4 441.1V453.1M212.3 440.2V445.3M215.2 449.8V456.2M216.2 448.9V455.8M218.1 447.3V465.0M222.9 442.1V450.6M227.7 446.2V449.6M230.6 450.9V455.6M232.5 439.8V447.3M236.3 436.0V443.8M237.3 437.3V451.9M240.2 452.1V465.0M241.1 468.1V474.6M242.1 463.6V477.3M243.0 469.2V479.3M245.0 454.3V462.2M247.8 441.0V456.0M249.8 449.8V457.8M250.7 447.6V458.4M251.7 454.1V460.2M254.6 450.2V457.7M255.5 451.8V456.4M256.5 455.2V461.0M257.4 455.8V464.6M258.4 462.2V468.2M259.4 467.2V476.1M260.3 473.5V482.7M261.3 475.1V486.5M263.2 482.5V493.9M264.2 494.8V500.1M267.0 488.1V502.5M268.0 495.8V504.2M269.0 492.9V502.0M269.9 496.0V505.5M271.8 501.1V509.0M272.8 500.9V507.3M274.7 514.0V527.0M275.7 514.6V523.3M276.6 521.5V532.3M278.6 522.8V544.1M279.5 537.1V550.2M281.4 536.7V550.5M282.4 543.1V557.1M283.4 557.2V563.3M284.3 562.2V573.1M285.3 573.0V579.6M286.2 570.5V588.8M287.2 579.9V588.2M290.1 575.4V584.0M293.0 561.6V569.8M293.9 567.6V581.5M294.9 564.9V581.0M295.8 569.3V576.0M296.8 565.5V579.3M297.8 577.5V585.6M298.7 579.7V590.7M299.7 575.9V587.1M300.6 576.0V585.9M301.6 580.7V590.5M303.5 594.9V603.7M304.5 601.9V609.7M305.4 604.4V608.7M306.4 613.1V621.0M307.4 617.0V625.8M308.3 621.6V632.8M309.3 627.5V646.7M310.2 632.9V657.3M316.0 634.6V642.4M317.0 638.1V655.5M317.9 644.8V668.0M318.9 656.0V666.4M319.8 655.9V673.4M320.8 664.2V682.1M323.7 661.8V670.7M333.3 604.1V621.8M334.2 620.7V629.3M335.2 619.4V632.8M336.2 616.8V629.2M337.1 632.0V639.6M344.8 611.5V617.5M346.7 614.6V619.2M357.3 582.0V588.0M358.2 584.6V598.6M359.2 591.8V600.4M360.2 588.5V600.6M361.1 587.1V601.1M365.0 590.4V598.5M365.9 591.7V600.0M367.8 592.2V598.0M369.8 601.6V610.6M370.7 607.2V618.9M375.5 588.5V599.7M376.5 588.7V598.9M377.4 593.3V607.6M378.4 596.2V606.7M379.4 596.6V601.6M380.3 602.9V609.2M381.3 606.3V612.5M382.2 605.5V618.4M383.2 608.0V615.2M384.2 607.2V617.7M390.9 592.5V600.8M393.8 608.9V622.9M394.7 624.7V631.8M395.7 622.7V641.0M396.6 627.2V639.3M397.6 631.0V642.0M398.6 642.3V649.5M400.5 644.9V654.3M401.4 643.3V650.1M402.4 649.9V658.7M403.4 650.0V658.8M404.3 654.2V662.7M405.3 662.8V674.9M406.2 659.7V667.7M407.2 677.4V686.8M408.2 669.8V687.3M409.1 673.6V682.8M411.0 656.5V667.9M412.0 663.7V672.2M413.9 661.0V672.5M415.8 661.1V669.6M416.8 663.4V673.1M417.8 666.3V674.5M418.7 667.0V677.3M419.7 674.3V681.0M420.6 672.4V677.4M421.6 674.3V685.5M422.6 687.4V701.1M423.5 694.8V706.7M424.5 700.9V706.6M425.4 706.7V720.6M426.4 714.3V727.2M427.4 725.5V732.7M428.3 723.5V730.1M430.2 739.6V744.0M431.2 734.2V744.7M432.2 735.5V745.5M433.1 742.1V750.7M434.1 730.7V741.4M435.0 722.4V731.9M436.0 711.2V718.8M441.8 703.5V712.3M442.7 709.3V722.1M443.7 711.8V721.7M444.6 719.9V730.1M445.6 730.3V740.3M446.6 749.2V753.2M448.5 757.4V772.5M449.4 763.8V773.9M450.4 768.7V779.1M455.2 744.0V758.2M459.0 741.4V748.1M460.0 736.1V741.1M462.9 741.5V745.9M463.8 743.1V749.5M464.8 746.7V755.8M465.8 751.9V757.8M466.7 751.1V757.6M470.6 732.9V741.7M471.5 742.5V751.2M472.5 738.1V744.7M473.4 756.0V766.2M474.4 768.1V776.1M475.4 758.4V770.2M480.2 746.3V757.4M481.1 743.2V753.1M485.0 741.1V747.8M485.9 747.4V753.6M488.8 739.9V752.5M489.8 745.0V749.2M490.7 743.7V752.1M491.7 741.6V751.3M492.6 743.9V751.5M498.4 733.8V740.0M500.3 727.9V735.3M502.2 729.9V733.2M510.9 685.7V691.7M511.8 685.1V698.6M512.8 689.9V697.2M513.8 695.2V702.7M514.7 695.3V700.1M515.7 701.1V705.3M516.6 710.3V713.9M517.6 711.4V716.6M518.6 713.1V720.8M522.4 709.1V714.4M523.4 708.5V715.4M524.3 710.7V714.6M525.3 713.3V718.1M531.0 692.6V701.1M533.9 693.4V698.4M535.8 692.2V704.3M536.8 693.6V700.1M538.7 682.7V688.1M540.6 668.0V678.5M544.5 661.1V665.2M548.3 652.7V658.4M549.3 648.6V659.4M551.2 648.3V659.4M560.8 581.5V587.4M563.7 582.1V598.1M564.6 575.3V593.7M565.6 576.5V588.2M567.5 585.2V595.2M568.5 599.4V603.7M569.4 594.0V599.8M570.4 595.2V610.0M571.4 596.2V605.1M576.2 573.8V579.2M585.8 507.1V512.2M591.5 472.7V481.1M595.4 451.8V466.2M596.3 467.4V482.8M597.3 468.6V488.5M598.2 472.2V481.5M599.2 474.1V490.5M601.1 487.7V496.4M602.1 481.7V490.6M603.0 481.8V492.9M604.0 502.0V514.6M605.9 518.9V532.6M606.9 516.5V537.7M607.8 527.0V538.3M608.8 545.6V557.2M609.8 539.5V557.8M618.4 522.1V534.5M619.4 528.3V550.2M620.3 529.0V545.8M621.3 528.6V545.1M629.9 489.4V496.6M630.9 486.0V491.9M631.8 479.5V489.2M634.7 454.4V466.4M635.7 455.0V470.0M636.6 460.2V478.8M638.6 466.2V478.2M639.5 465.1V472.8M643.4 454.6V462.1M647.2 447.3V461.8M648.2 449.7V464.0M649.1 445.5V464.9M650.1 448.0V454.7M651.0 457.4V468.3M652.0 455.2V468.3M653.0 467.2V478.3M653.9 460.0V470.6M655.8 475.2V484.4M656.8 468.8V485.5M658.7 471.9V482.3M659.7 471.3V485.7M662.6 475.8V486.1M663.5 464.8V483.3M664.5 467.6V483.1M670.2 479.5V485.0M672.2 479.9V486.2M673.1 468.2V480.7M674.1 469.8V484.6M675.0 469.0V477.4M676.0 478.8V489.7M677.9 484.4V490.6M679.8 492.5V499.1M681.8 494.8V507.2M682.7 504.4V514.3M683.7 495.2V503.1M690.4 486.3V502.6M692.3 490.7V501.9M693.3 495.8V503.3M694.2 493.5V505.0M695.2 497.3V509.9M696.2 496.5V511.3M697.1 511.7V516.8M699.0 513.8V524.1M700.0 525.2V533.4M707.7 471.8V485.7M708.6 477.7V484.3M709.6 488.6V493.2M712.5 501.0V509.0M719.2 473.6V479.0M720.2 471.8V475.8M722.1 470.1V482.2M723.0 474.2V482.5M724.0 480.8V488.1M725.0 481.5V488.1M725.9 481.2V490.9M728.8 475.1V488.8M730.7 467.2V478.9M736.5 448.6V454.8M739.4 442.4V450.0M740.3 447.4V455.0M742.2 452.9V456.3M745.1 454.5V462.6M746.1 451.2V457.4M749.9 428.5V446.8M750.9 420.8V434.5M756.6 404.9V412.3M757.6 405.0V413.2M760.5 396.1V405.3M761.4 392.6V403.1M762.4 384.6V391.8M766.2 348.7V363.2M769.1 378.6V391.3M770.1 387.7V400.0M771.0 389.0V398.6M772.0 402.8V431.1M775.8 355.4V369.8M781.6 302.1V313.3M782.6 295.7V306.6M783.5 319.8V329.6M784.5 344.7V356.3M791.2 338.7V354.0M793.1 326.4V341.0M797.9 283.9V298.7M798.9 281.1V302.5M804.6 285.7V297.0M811.4 269.1V276.8M812.3 266.5V278.0M816.2 239.4V257.4M817.1 249.8V268.6M818.1 271.8V288.7M819.0 281.4V302.5M820.0 288.7V306.7M821.0 311.2V342.0M821.9 339.6V356.2M822.9 358.5V377.1M823.8 375.8V397.7M824.8 390.0V412.5M825.8 416.7V447.4M826.7 462.3V488.8M827.7 510.7V547.2M828.6 523.8V606.0M829.6 598.3V637.2M830.6 559.9V615.1M833.4 584.7V603.8M834.4 577.1V595.9M840.2 552.5V572.1M841.1 537.4V557.0M842.1 574.6V587.1M844.0 586.6V601.0M845.0 590.9V609.7M845.9 596.1V615.4M848.8 585.9V604.8M861.3 420.0V442.0M876.6 338.8V349.8M883.4 295.2V314.1M884.3 297.0V324.2M886.2 314.6V326.4M887.2 334.3V345.2M888.2 336.5V351.3M892.0 317.7V336.4M893.0 328.0V350.6M893.9 332.4V351.1M895.8 335.5V348.2M898.7 318.8V337.3M902.6 299.4V308.3M905.4 299.9V320.9M906.4 312.8V327.6M907.4 320.6V338.4M908.3 340.4V354.7M909.3 375.1V393.5M910.2 408.4V418.2M912.2 375.3V390.6M916.0 349.7V366.1M917.9 313.8V327.5M918.9 318.9V337.6M919.8 313.9V341.5M920.8 315.9V331.0M921.8 327.0V341.9M922.7 309.7V322.3M923.7 299.1V307.7M929.4 228.3V249.1M932.3 223.4V238.7M933.3 226.0V239.4M934.2 230.1V241.8M940.0 205.5V217.3M941.0 204.7V219.3M942.9 213.6V222.6M944.8 213.5V222.3M946.7 200.6V212.2M947.7 204.4V218.5M954.4 145.2V164.9M958.2 134.0V152.2M959.2 147.1V159.8M961.1 140.0V162.2M965.0 146.7V159.1M969.8 144.7V158.1M970.7 157.6V177.9M974.6 159.7V174.9M975.5 181.8V212.1M976.5 203.7V228.6M977.4 221.7V258.8M978.4 216.3V246.1M983.2 195.4V218.7M984.2 211.6V232.6M985.1 202.9V237.4M992.8 161.2V175.5M998.6 141.0V158.2M999.5 148.8V163.6M1000.5 152.7V165.2M1001.4 168.5V176.2M1002.4 159.7V171.5M1005.3 184.2V202.9M1007.2 190.0V198.7M1010.1 248.0V258.2M1018.7 174.8V187.5M1021.6 159.1V181.2M1022.6 158.8V177.6M1023.5 162.3V179.2M1024.5 160.3V174.6M1025.4 160.2V182.3M1026.4 165.8V186.5M1027.4 176.4V195.2M1028.3 186.9V198.2M1031.2 181.1V193.0M1038.9 159.1V168.7M1040.8 168.7V179.4M1041.8 166.4V180.0M1042.7 170.6V184.8M1044.6 168.1V187.2M1045.6 183.6V195.7M1050.4 171.2V179.4M1052.3 167.0V178.1M1054.2 171.1V187.2M1055.2 173.6V186.7M1058.1 199.2V214.0M1059.0 206.7V218.3M1060.0 231.8V257.0M1061.0 245.4V266.6M1061.9 256.6V265.3M1062.9 263.3V282.2M1063.8 288.9V300.2M1065.8 306.3V314.6M1066.7 314.8V322.5M1068.6 313.7V337.2M1069.6 309.4V319.8M1070.6 306.4V337.4M1075.4 305.6V314.1M1076.3 294.9V304.2M1077.3 282.4V291.1M1079.2 265.6V281.3M1082.1 271.3V279.1M1083.0 286.4V293.8M1084.0 282.1V299.3M1085.0 295.9V307.0M1085.9 308.1V325.4M1086.9 309.0V325.0M1087.8 320.9V332.8M1088.8 316.5V337.8M1089.8 325.6V336.3M1096.5 331.9V345.3M1102.2 304.2V319.9M1105.1 292.0V299.0M1107.0 287.2V303.8M1109.9 286.9V296.1M1111.8 280.1V288.7M1116.6 281.5V285.6M1117.6 287.9V298.5M1118.6 282.8V297.0M1119.5 285.0V303.0M1120.5 287.9V296.5M1121.4 302.7V316.2M1122.4 295.4V310.1M1123.4 297.2V311.1M1124.3 292.1V314.0M1125.3 313.1V327.7M1127.2 333.9V349.0M1130.1 358.2V369.6M1131.0 349.6V359.1M1132.0 352.1V365.5M1133.0 355.8V375.3M1133.9 365.2V382.8M1134.9 371.2V384.6M1135.8 381.3V390.2M1136.8 388.9V406.9M1137.8 402.0V420.0M1138.7 410.8V419.5M1141.6 412.9V424.2M1142.6 425.5V441.3M1144.5 447.4V457.7M1145.4 455.1V470.5M1146.4 455.1V469.2M1147.4 450.5V472.9M1148.3 465.2V475.7M1149.3 467.4V476.7M1153.1 434.6V453.5M1157.9 430.0V443.2M1158.9 437.0V445.4M1159.8 443.7V456.8M1161.8 459.4V472.8M1162.7 461.4V469.7M1163.7 463.5V476.5M1164.6 471.1V485.3M1165.6 481.4V491.6M1167.5 480.8V494.8M1168.5 491.0V500.3M1170.4 502.6V518.4M1171.4 501.5V525.3M1172.3 513.2V529.1M1174.2 531.6V541.2M1181.0 523.6V535.8M1181.9 519.1V526.1M1186.7 513.1V521.1M1187.7 517.0V524.5M1188.6 518.6V531.1M1189.6 518.8V529.5M1190.6 524.9V532.9M1191.5 536.0V549.0M1197.3 504.9V516.1M1205.0 468.6V479.8M1205.9 476.3V482.5M1206.9 482.1V491.0M1207.8 502.7V509.2M1208.8 508.4V516.7M1209.8 512.8V521.7M1210.7 511.9V520.8M1222.2 476.2V483.4M1223.2 468.4V482.1M1224.2 475.3V484.1M1228.0 475.8V487.5M1229.9 473.5V480.4M1232.8 468.5V483.8M1233.8 482.6V493.9M1234.7 483.6V500.2M1235.7 504.7V511.0M1236.6 493.9V506.8M1237.6 505.7V514.3M1244.3 487.1V497.8M1250.1 473.5V482.6M1252.0 484.4V493.9M1253.9 490.2V497.6M1256.8 492.9V499.3M1257.8 496.7V504.2M1260.6 490.1V497.4M1263.5 482.7V495.4M1264.5 479.4V486.2M1265.4 473.1V483.2M1276.0 432.8V439.5M1277.0 441.3V449.3M1277.9 448.8V456.6M1278.9 456.5V461.7M1279.8 455.4V461.0M1280.8 456.3V467.8M1283.7 475.2V480.1M1284.6 478.3V485.3M1285.6 478.5V483.4M1286.6 478.9V487.2M1294.2 431.8V443.8M1295.2 437.3V449.4M1296.2 450.0V459.2M1297.1 446.4V455.0M1298.1 442.7V456.3M1299.0 458.1V465.3M1300.0 454.7V465.7M1301.0 457.6V464.2M1301.9 463.9V472.1M1302.9 466.3V474.1M1303.8 469.3V474.1M1304.8 471.3V480.9M1306.7 479.0V487.7M1307.7 483.0V489.6M1308.6 482.7V493.2M1309.6 483.5V494.6M1310.6 490.5V496.0M1311.5 499.4V504.0M1312.5 492.5V499.4M1313.4 496.3V504.2M1314.4 494.9V507.3M1315.4 497.6V508.4M1316.3 506.3V510.3M1318.2 505.9V512.0M1319.2 504.8V516.8M1320.2 512.4V518.4M1321.1 512.8V520.6M1322.1 517.6V525.1M1323.0 514.4V523.8M1324.0 511.4V523.0M1325.0 523.7V532.8M1325.9 525.9V537.7M1327.8 526.2V535.2M1328.8 526.9V539.3M1330.7 525.9V538.3M1331.7 523.2V533.0M1337.4 517.5V531.2M1338.4 519.2V531.5M1339.4 535.1V549.0M1340.3 552.1V559.7M1344.2 519.5V526.8M1345.1 521.4V528.6M1346.1 517.5V524.9M1347.0 522.4V529.5M1348.0 527.1V535.8M1349.0 530.0V536.0M1349.9 533.3V543.1M1352.8 531.1V537.2M1353.8 529.2V539.0M1354.7 529.7V535.2M1355.7 532.2V535.9M1356.6 533.7V543.8M1357.6 544.5V550.0M1358.6 545.3V553.3M1359.5 548.4V555.4M1360.5 552.5V556.2M1361.4 553.2V559.2M1362.4 554.4V560.5M1364.3 551.4V561.8M1369.1 561.4V569.4M1370.1 567.2V571.3M1371.0 566.7V576.0M1375.8 562.6V569.5M1377.8 565.9V571.6M1378.7 564.2V569.1M1383.5 559.5V566.7M1384.5 563.6V569.7M1385.4 558.6V563.6M1390.2 552.0V559.9M1391.2 554.5V560.7M1392.2 559.3V563.5M1393.1 565.5V572.4M1395.0 572.2V582.1M1398.9 596.0V604.7M1399.8 606.4V641.3M1400.8 641.3V677.4" stroke="#532c2c" stroke-width="0.95" fill="none"/>
<path d="M245.9 503.3 L246.9 502.8 L247.8 502.3 L248.8 501.7 L249.8 501.3 L250.7 500.9 L251.7 500.5 L252.6 500.0 L253.6 499.5 L254.6 499.1 L255.5 498.7 L256.5 498.3 L257.4 498.0 L258.4 497.7 L259.4 497.5 L260.3 497.3 L261.3 497.2 L262.2 497.0 L263.2 497.0 L264.2 497.0 L265.1 496.9 L266.1 496.9 L267.0 496.9 L268.0 497.0 L269.0 497.1 L269.9 497.2 L270.9 497.2 L271.8 497.3 L272.8 497.4 L273.8 497.5 L274.7 497.8 L275.7 498.1 L276.6 498.4 L277.6 498.6 L278.6 499.1 L279.5 499.6 L280.5 499.9 L281.4 500.4 L282.4 501.0 L283.4 501.6 L284.3 502.3 L285.3 503.1 L286.2 503.9 L287.2 504.8 L288.2 505.6 L289.1 506.2 L290.1 507.0 L291.0 507.6 L292.0 508.2 L293.0 508.9 L293.9 509.6 L294.9 510.3 L295.8 510.9 L296.8 511.6 L297.8 512.4 L298.7 513.1 L299.7 513.9 L300.6 514.6 L301.6 515.3 L302.6 516.1 L303.5 516.9 L304.5 517.8 L305.4 518.8 L306.4 519.8 L307.4 520.8 L308.3 521.9 L309.3 523.2 L310.2 524.5 L311.2 525.7 L312.2 526.8 L313.1 527.8 L314.1 528.8 L315.0 529.7 L316.0 530.8 L317.0 532.1 L317.9 533.4 L318.9 534.7 L319.8 536.1 L320.8 537.6 L321.8 538.9 L322.7 540.2 L323.7 541.5 L324.6 542.6 L325.6 543.7 L326.6 544.6 L327.5 545.5 L328.5 546.2 L329.4 546.9 L330.4 547.6 L331.4 548.2 L332.3 548.9 L333.3 549.6 L334.2 550.4 L335.2 551.2 L336.2 552.0 L337.1 552.8 L338.1 553.6 L339.0 554.3 L340.0 555.0 L341.0 555.6 L341.9 556.1 L342.9 556.6 L343.8 557.1 L344.8 557.7 L345.8 558.2 L346.7 558.8 L347.7 559.5 L348.6 560.1 L349.6 560.6 L350.6 561.2 L351.5 561.7 L352.5 562.2 L353.4 562.6 L354.4 562.9 L355.4 563.1 L356.3 563.3 L357.3 563.6 L358.2 563.9 L359.2 564.3 L360.2 564.6 L361.1 565.0 L362.1 565.2 L363.0 565.3 L364.0 565.5 L365.0 565.8 L365.9 566.2 L366.9 566.5 L367.8 566.8 L368.8 567.1 L369.8 567.6 L370.7 568.1 L371.7 568.4 L372.6 568.8 L373.6 569.1 L374.6 569.3 L375.5 569.6 L376.5 569.9 L377.4 570.3 L378.4 570.6 L379.4 570.9 L380.3 571.3 L381.3 571.7 L382.2 572.2 L383.2 572.6 L384.2 573.1 L385.1 573.4 L386.1 573.7 L387.0 574.0 L388.0 574.3 L389.0 574.5 L389.9 574.6 L390.9 574.8 L391.8 575.1 L392.8 575.3 L393.8 575.8 L394.7 576.3 L395.7 577.0 L396.6 577.6 L397.6 578.2 L398.6 578.9 L399.5 579.5 L400.5 580.3 L401.4 581.0 L402.4 581.8 L403.4 582.5 L404.3 583.3 L405.3 584.2 L406.2 585.1 L407.2 586.1 L408.2 587.1 L409.1 588.0 L410.1 588.8 L411.0 589.6 L412.0 590.4 L413.0 591.1 L413.9 591.9 L414.9 592.6 L415.8 593.4 L416.8 594.2 L417.8 595.0 L418.7 595.8 L419.7 596.6 L420.6 597.4 L421.6 598.3 L422.6 599.3 L423.5 600.4 L424.5 601.5 L425.4 602.6 L426.4 603.9 L427.4 605.2 L428.3 606.4 L429.3 607.6 L430.2 609.0 L431.2 610.3 L432.2 611.7 L433.1 613.1 L434.1 614.3 L435.0 615.5 L436.0 616.5 L437.0 617.4 L437.9 618.3 L438.9 619.0 L439.8 619.8 L440.8 620.6 L441.8 621.5 L442.7 622.5 L443.7 623.5 L444.6 624.6 L445.6 625.7 L446.6 627.0 L447.5 628.2 L448.5 629.6 L449.4 631.1 L450.4 632.5 L451.4 633.9 L452.3 635.2 L453.3 636.4 L454.2 637.5 L455.2 638.7 L456.2 639.7 L457.1 640.7 L458.1 641.6 L459.0 642.7 L460.0 643.7 L461.0 644.6 L461.9 645.6 L462.9 646.6 L463.8 647.6 L464.8 648.7 L465.8 649.8 L466.7 650.8 L467.7 651.8 L468.6 652.6 L469.6 653.5 L470.6 654.3 L471.5 655.3 L472.5 656.2 L473.4 657.3 L474.4 658.5 L475.4 659.6 L476.3 660.6 L477.3 661.5 L478.2 662.4 L479.2 663.3 L480.2 664.3 L481.1 665.1 L482.1 665.9 L483.0 666.7 L484.0 667.4 L485.0 668.2 L485.9 669.0 L486.9 669.8 L487.8 670.5 L488.8 671.3 L489.8 672.1 L490.7 672.9 L491.7 673.7 L492.6 674.5 L493.6 675.2 L494.6 675.9 L495.5 676.6 L496.5 677.2 L497.4 677.7 L498.4 678.3 L499.4 678.9 L500.3 679.4 L501.3 679.9 L502.2 680.4 L503.2 680.8 L504.2 681.2 L505.1 681.5 L506.1 681.8 L507.0 682.1 L508.0 682.3 L509.0 682.5 L509.9 682.7 L510.9 682.8 L511.8 682.9 L512.8 683.1 L513.8 683.3 L514.7 683.4 L515.7 683.7 L516.6 684.0 L517.6 684.3 L518.6 684.7 L519.5 685.0 L520.5 685.2 L521.4 685.5 L522.4 685.8 L523.4 686.1 L524.3 686.4 L525.3 686.7 L526.2 687.0 L527.2 687.2 L528.2 687.3 L529.1 687.4 L530.1 687.6 L531.0 687.7 L532.0 687.8 L533.0 687.9 L533.9 688.0 L534.9 688.0 L535.8 688.2 L536.8 688.3 L537.8 688.3 L538.7 688.3 L539.7 688.1 L540.6 688.0 L541.6 687.8 L542.6 687.6 L543.5 687.4 L544.5 687.2 L545.4 686.8 L546.4 686.4 L547.4 686.0 L548.3 685.7 L549.3 685.5 L550.2 685.1 L551.2 684.9 L552.2 684.4 L553.1 683.9 L554.1 683.3 L555.0 682.7 L556.0 682.0 L557.0 681.2 L557.9 680.3 L558.9 679.4 L559.8 678.5 L560.8 677.5 L561.8 676.5 L562.7 675.5 L563.7 674.7 L564.6 673.9 L565.6 673.1 L566.6 672.3 L567.5 671.5 L568.5 670.8 L569.4 670.1 L570.4 669.5 L571.4 668.9 L572.3 668.1 L573.3 667.4 L574.2 666.6 L575.2 665.7 L576.2 664.9 L577.1 663.9 L578.1 662.8 L579.0 661.6 L580.0 660.4 L581.0 659.1 L581.9 657.8 L582.9 656.4 L583.8 655.0 L584.8 653.6 L585.8 652.2 L586.7 650.7 L587.7 649.1 L588.6 647.5 L589.6 645.9 L590.6 644.2 L591.5 642.6 L592.5 640.8 L593.4 639.0 L594.4 637.1 L595.4 635.4 L596.3 633.9 L597.3 632.5 L598.2 631.0 L599.2 629.6 L600.2 628.1 L601.1 626.8 L602.1 625.4 L603.0 624.1 L604.0 623.0 L605.0 621.8 L605.9 620.9 L606.9 620.0 L607.8 619.2 L608.8 618.6 L609.8 618.0 L610.7 617.2 L611.7 616.5 L612.6 615.7 L613.6 614.7 L614.6 613.9 L615.5 613.0 L616.5 612.1 L617.4 611.2 L618.4 610.4 L619.4 609.8 L620.3 609.2 L621.3 608.5 L622.2 607.7 L623.2 606.9 L624.2 606.1 L625.1 605.2 L626.1 604.3 L627.0 603.2 L628.0 602.2 L629.0 601.2 L629.9 600.1 L630.9 599.0 L631.8 598.0 L632.8 596.6 L633.8 595.3 L634.7 594.0 L635.7 592.7 L636.6 591.6 L637.6 590.3 L638.6 589.2 L639.5 588.0 L640.5 586.8 L641.4 585.5 L642.4 584.3 L643.4 583.1 L644.3 581.9 L645.3 580.6 L646.2 579.3 L647.2 578.1 L648.2 577.0 L649.1 575.9 L650.1 574.7 L651.0 573.6 L652.0 572.6 L653.0 571.6 L653.9 570.6 L654.9 569.6 L655.8 568.7 L656.8 567.9 L657.8 566.9 L658.7 566.1 L659.7 565.3 L660.6 564.3 L661.6 563.3 L662.6 562.6 L663.5 561.8 L664.5 561.0 L665.4 560.1 L666.4 559.3 L667.4 558.5 L668.3 557.7 L669.3 556.8 L670.2 556.1 L671.2 555.3 L672.2 554.6 L673.1 553.8 L674.1 553.1 L675.0 552.4 L676.0 551.8 L677.0 551.0 L677.9 550.4 L678.9 549.8 L679.8 549.3 L680.8 548.7 L681.8 548.3 L682.7 548.0 L683.7 547.5 L684.6 547.1 L685.6 546.6 L686.6 546.2 L687.5 545.7 L688.5 545.1 L689.4 544.6 L690.4 544.2 L691.4 543.6 L692.3 543.2 L693.3 542.8 L694.2 542.4 L695.2 542.1 L696.2 541.8 L697.1 541.5 L698.1 541.2 L699.0 541.0 L700.0 540.9 L701.0 540.7 L701.9 540.5 L702.9 540.2 L703.8 539.9 L704.8 539.5 L705.8 539.0 L706.7 538.2 L707.7 537.7 L708.6 537.2 L709.6 536.7 L710.6 536.3 L711.5 535.9 L712.5 535.6 L713.4 535.3 L714.4 535.0 L715.4 534.5 L716.3 534.0 L717.3 533.5 L718.2 532.9 L719.2 532.3 L720.2 531.8 L721.1 531.2 L722.1 530.8 L723.0 530.3 L724.0 529.9 L725.0 529.4 L725.9 529.1 L726.9 528.7 L727.8 528.2 L728.8 527.9 L729.8 527.4 L730.7 526.9 L731.7 526.2 L732.6 525.6 L733.6 524.9 L734.6 524.1 L735.5 523.4 L736.5 522.7 L737.4 522.0 L738.4 521.2 L739.4 520.5 L740.3 519.9 L741.3 519.2 L742.2 518.6 L743.2 517.9 L744.2 517.3 L745.1 516.8 L746.1 516.2 L747.0 515.5 L748.0 514.7 L749.0 514.0 L749.9 513.3 L750.9 512.6 L751.8 511.6 L752.8 510.7 L753.8 509.6 L754.7 508.6 L755.7 507.5 L756.6 506.6 L757.6 505.7 L758.6 504.7 L759.5 503.6 L760.5 502.7 L761.4 501.7 L762.4 500.6 L763.4 499.3 L764.3 498.0 L765.3 496.6 L766.2 495.3 L767.2 493.9 L768.2 492.7 L769.1 491.7 L770.1 490.8 L771.0 489.9 L772.0 489.3 L773.0 488.4 L773.9 487.4 L774.9 486.1 L775.8 484.9 L776.8 483.4 L777.8 481.9 L778.7 480.3 L779.7 478.7 L780.6 477.0 L781.6 475.3 L782.6 473.7 L783.5 472.2 L784.5 471.1 L785.4 469.8 L786.4 468.5 L787.4 467.3 L788.3 466.2 L789.3 465.0 L790.2 463.7 L791.2 462.6 L792.2 461.4 L793.1 460.2 L794.1 458.8 L795.0 457.4 L796.0 455.8 L797.0 454.1 L797.9 452.6 L798.9 451.1 L799.8 449.5 L800.8 447.9 L801.8 446.3 L802.7 444.6 L803.7 443.1 L804.6 441.6 L805.6 439.9 L806.6 438.2 L807.5 436.6 L808.5 434.9 L809.4 433.2 L810.4 431.5 L811.4 430.0 L812.3 428.4 L813.3 426.9 L814.2 425.2 L815.2 423.4 L816.2 421.8 L817.1 420.3 L818.1 419.0 L819.0 417.8 L820.0 416.7 L821.0 416.0 L821.9 415.4 L822.9 415.0 L823.8 414.8 L824.8 414.8 L825.8 415.1 L826.7 415.8 L827.7 417.1 L828.6 419.0 L829.6 421.2 L830.6 423.1 L831.5 424.6 L832.5 425.9 L833.4 427.6 L834.4 429.3 L835.4 430.9 L836.3 432.4 L837.3 433.8 L838.2 435.1 L839.2 436.1 L840.2 437.4 L841.1 438.6 L842.1 440.1 L843.0 441.3 L844.0 442.9 L845.0 444.6 L845.9 446.3 L846.9 447.7 L847.8 449.1 L848.8 450.6 L849.8 451.6 L850.7 452.7 L851.7 453.5 L852.6 454.2 L853.6 454.8 L854.6 455.3 L855.5 455.7 L856.5 455.9 L857.4 456.0 L858.4 456.0 L859.4 455.8 L860.3 455.6 L861.3 455.5 L862.2 455.2 L863.2 454.9 L864.2 454.6 L865.1 454.2 L866.1 453.9 L867.0 453.4 L868.0 453.0 L869.0 452.4 L869.9 451.7 L870.9 450.9 L871.8 450.2 L872.8 449.4 L873.8 448.5 L874.7 447.5 L875.7 446.4 L876.6 445.5 L877.6 444.2 L878.6 442.9 L879.5 441.4 L880.5 440.0 L881.4 438.6 L882.4 437.3 L883.4 436.0 L884.3 434.9 L885.3 433.8 L886.2 432.7 L887.2 431.8 L888.2 431.0 L889.1 430.0 L890.1 428.9 L891.0 427.8 L892.0 426.8 L893.0 426.1 L893.9 425.3 L894.9 424.5 L895.8 423.8 L896.8 422.8 L897.8 421.8 L898.7 421.0 L899.7 419.9 L900.6 418.9 L901.6 417.7 L902.6 416.6 L903.5 415.4 L904.5 414.2 L905.4 413.3 L906.4 412.4 L907.4 411.7 L908.3 411.1 L909.3 410.9 L910.2 411.0 L911.2 410.6 L912.2 410.4 L913.1 410.0 L914.1 409.5 L915.0 409.1 L916.0 408.7 L917.0 408.0 L917.9 407.2 L918.9 406.5 L919.8 405.9 L920.8 405.1 L921.8 404.5 L922.7 403.7 L923.7 402.7 L924.6 401.6 L925.6 400.3 L926.6 398.9 L927.5 397.2 L928.5 395.7 L929.4 394.2 L930.4 392.4 L931.4 390.6 L932.3 389.1 L933.3 387.6 L934.2 386.1 L935.2 384.5 L936.2 382.9 L937.1 381.2 L938.1 379.5 L939.0 377.8 L940.0 376.3 L941.0 374.7 L941.9 373.0 L942.9 371.5 L943.8 370.0 L944.8 368.5 L945.8 366.9 L946.7 365.3 L947.7 363.9 L948.6 362.5 L949.6 361.0 L950.6 359.4 L951.5 357.7 L952.5 355.8 L953.4 353.9 L954.4 352.0 L955.4 349.9 L956.3 347.7 L957.3 345.5 L958.2 343.6 L959.2 341.7 L960.2 339.8 L961.1 338.0 L962.1 336.1 L963.0 334.1 L964.0 332.2 L965.0 330.4 L965.9 328.6 L966.9 326.7 L967.8 324.6 L968.8 322.6 L969.8 320.9 L970.7 319.5 L971.7 318.0 L972.6 316.4 L973.6 314.7 L974.6 313.3 L975.5 312.3 L976.5 311.5 L977.4 311.0 L978.4 310.3 L979.4 309.3 L980.3 307.9 L981.3 306.4 L982.2 305.1 L983.2 304.3 L984.2 303.5 L985.1 302.9 L986.1 301.9 L987.0 301.0 L988.0 300.0 L989.0 298.9 L989.9 297.8 L990.9 296.6 L991.8 295.3 L992.8 294.1 L993.8 292.7 L994.7 291.3 L995.7 289.8 L996.6 288.3 L997.6 286.8 L998.6 285.5 L999.5 284.3 L1000.5 283.1 L1001.4 282.1 L1002.4 281.0 L1003.4 279.9 L1004.3 278.9 L1005.3 278.1 L1006.2 277.2 L1007.2 276.5 L1008.2 275.7 L1009.1 275.2 L1010.1 275.0 L1011.0 274.7 L1012.0 274.2 L1013.0 273.5 L1013.9 272.8 L1014.9 272.0 L1015.8 271.2 L1016.8 270.3 L1017.8 269.3 L1018.7 268.5 L1019.7 267.5 L1020.6 266.5 L1021.6 265.6 L1022.6 264.8 L1023.5 263.9 L1024.5 263.0 L1025.4 262.2 L1026.4 261.5 L1027.4 260.8 L1028.3 260.2 L1029.3 259.4 L1030.2 258.5 L1031.2 257.9 L1032.2 257.0 L1033.1 256.1 L1034.1 255.3 L1035.0 254.4 L1036.0 253.6 L1037.0 252.6 L1037.9 251.7 L1038.9 250.9 L1039.8 249.9 L1040.8 249.2 L1041.8 248.5 L1042.7 247.9 L1043.7 247.1 L1044.6 246.5 L1045.6 246.0 L1046.6 245.5 L1047.5 244.8 L1048.5 244.2 L1049.4 243.5 L1050.4 242.9 L1051.4 242.2 L1052.3 241.5 L1053.3 240.9 L1054.2 240.3 L1055.2 239.8 L1056.2 239.2 L1057.1 238.8 L1058.1 238.6 L1059.0 238.4 L1060.0 238.5 L1061.0 238.8 L1061.9 239.1 L1062.9 239.5 L1063.8 240.1 L1064.8 240.6 L1065.8 241.4 L1066.7 242.2 L1067.7 242.9 L1068.6 243.8 L1069.6 244.6 L1070.6 245.5 L1071.5 246.1 L1072.5 246.8 L1073.4 247.4 L1074.4 248.0 L1075.4 248.6 L1076.3 249.2 L1077.3 249.6 L1078.2 249.8 L1079.2 250.1 L1080.2 250.2 L1081.1 250.3 L1082.1 250.6 L1083.0 251.1 L1084.0 251.5 L1085.0 252.1 L1085.9 252.8 L1086.9 253.5 L1087.8 254.3 L1088.8 255.2 L1089.8 256.0 L1090.7 256.6 L1091.7 257.5 L1092.6 258.3 L1093.6 259.1 L1094.6 260.0 L1095.5 260.7 L1096.5 261.6 L1097.4 262.2 L1098.4 262.8 L1099.4 263.3 L1100.3 263.7 L1101.3 264.2 L1102.2 264.8 L1103.2 265.1 L1104.2 265.4 L1105.1 265.7 L1106.1 265.9 L1107.0 266.3 L1108.0 266.5 L1109.0 266.6 L1109.9 266.9 L1110.9 267.2 L1111.8 267.4 L1112.8 267.5 L1113.8 267.6 L1114.7 267.6 L1115.7 267.8 L1116.6 268.0 L1117.6 268.3 L1118.6 268.5 L1119.5 268.9 L1120.5 269.2 L1121.4 269.6 L1122.4 270.0 L1123.4 270.4 L1124.3 270.9 L1125.3 271.4 L1126.2 272.0 L1127.2 272.8 L1128.2 273.6 L1129.1 274.3 L1130.1 275.3 L1131.0 276.1 L1132.0 277.0 L1133.0 278.0 L1133.9 279.0 L1134.9 280.1 L1135.8 281.2 L1136.8 282.4 L1137.8 283.8 L1138.7 285.1 L1139.7 286.3 L1140.6 287.6 L1141.6 288.9 L1142.6 290.5 L1143.5 291.8 L1144.5 293.5 L1145.4 295.2 L1146.4 297.0 L1147.4 298.7 L1148.3 300.5 L1149.3 302.2 L1150.2 303.8 L1151.2 305.2 L1152.2 306.5 L1153.1 308.0 L1154.1 309.3 L1155.0 310.4 L1156.0 311.7 L1157.0 312.9 L1157.9 314.2 L1158.9 315.5 L1159.8 317.0 L1160.8 318.4 L1161.8 319.9 L1162.7 321.4 L1163.7 322.9 L1164.6 324.6 L1165.6 326.2 L1166.6 327.8 L1167.5 329.5 L1168.5 331.2 L1169.4 332.8 L1170.4 334.7 L1171.4 336.6 L1172.3 338.5 L1173.3 340.3 L1174.2 342.3 L1175.2 344.1 L1176.2 346.0 L1177.1 347.7 L1178.1 349.4 L1179.0 350.9 L1180.0 352.5 L1181.0 354.3 L1181.9 356.0 L1182.9 357.6 L1183.8 359.1 L1184.8 360.7 L1185.8 362.2 L1186.7 363.8 L1187.7 365.4 L1188.6 367.1 L1189.6 368.7 L1190.6 370.3 L1191.5 372.1 L1192.5 373.8 L1193.4 375.5 L1194.4 377.0 L1195.4 378.6 L1196.3 379.9 L1197.3 381.3 L1198.2 382.4 L1199.2 383.5 L1200.2 384.5 L1201.1 385.4 L1202.1 386.3 L1203.0 387.2 L1204.0 388.1 L1205.0 389.0 L1205.9 389.9 L1206.9 390.9 L1207.8 392.1 L1208.8 393.4 L1209.8 394.6 L1210.7 395.9 L1211.7 397.0 L1212.6 398.0 L1213.6 399.0 L1214.6 399.9 L1215.5 400.8 L1216.5 401.7 L1217.4 402.6 L1218.4 403.4 L1219.4 404.2 L1220.3 404.9 L1221.3 405.5 L1222.2 406.3 L1223.2 407.0 L1224.2 407.8 L1225.1 408.4 L1226.1 409.1 L1227.0 409.7 L1228.0 410.5 L1229.0 411.2 L1229.9 411.9 L1230.9 412.4 L1231.8 413.0 L1232.8 413.7 L1233.8 414.5 L1234.7 415.4 L1235.7 416.3 L1236.6 417.2 L1237.6 418.2 L1238.6 419.1 L1239.5 420.0 L1240.5 420.9 L1241.4 421.7 L1242.4 422.4 L1243.4 423.0 L1244.3 423.8 L1245.3 424.3 L1246.2 424.7 L1247.2 425.2 L1248.2 425.7 L1249.1 426.1 L1250.1 426.7 L1251.0 427.2 L1252.0 427.9 L1253.0 428.4 L1253.9 429.1 L1254.9 429.7 L1255.8 430.3 L1256.8 431.0 L1257.8 431.8 L1258.7 432.4 L1259.7 433.0 L1260.6 433.6 L1261.6 434.2 L1262.6 434.7 L1263.5 435.3 L1264.5 435.8 L1265.4 436.3 L1266.4 436.6 L1267.4 436.8 L1268.3 436.8 L1269.3 436.9 L1270.2 436.9 L1271.2 436.9 L1272.2 437.0 L1273.1 437.0 L1274.1 437.0 L1275.0 436.9 L1276.0 436.9 L1277.0 437.0 L1277.9 437.2 L1278.9 437.5 L1279.8 437.7 L1280.8 438.0 L1281.8 438.3 L1282.7 438.6 L1283.7 439.0 L1284.6 439.4 L1285.6 439.9 L1286.6 440.3 L1287.5 440.7 L1288.5 441.2 L1289.4 441.4 L1290.4 441.6 L1291.4 441.8 L1292.3 441.8 L1293.3 441.8 L1294.2 441.8 L1295.2 441.9 L1296.2 442.0 L1297.1 442.2 L1298.1 442.3 L1299.0 442.5 L1300.0 442.8 L1301.0 443.0 L1301.9 443.3 L1302.9 443.6 L1303.8 443.9 L1304.8 444.2 L1305.8 444.5 L1306.7 445.0 L1307.7 445.4 L1308.6 445.9 L1309.6 446.4 L1310.6 446.9 L1311.5 447.4 L1312.5 447.9 L1313.4 448.5 L1314.4 449.1 L1315.4 449.7 L1316.3 450.3 L1317.3 450.8 L1318.2 451.4 L1319.2 452.0 L1320.2 452.7 L1321.1 453.4 L1322.1 454.1 L1323.0 454.8 L1324.0 455.5 L1325.0 456.2 L1325.9 457.0 L1326.9 457.7 L1327.8 458.5 L1328.8 459.3 L1329.8 460.0 L1330.7 460.8 L1331.7 461.5 L1332.6 462.2 L1333.6 462.7 L1334.6 463.2 L1335.5 463.7 L1336.5 464.2 L1337.4 464.8 L1338.4 465.5 L1339.4 466.3 L1340.3 467.2 L1341.3 468.0 L1342.2 468.7 L1343.2 469.3 L1344.2 469.9 L1345.1 470.5 L1346.1 471.0 L1347.0 471.6 L1348.0 472.2 L1349.0 472.9 L1349.9 473.6 L1350.9 474.2 L1351.8 474.8 L1352.8 475.4 L1353.8 476.0 L1354.7 476.6 L1355.7 477.2 L1356.6 477.9 L1357.6 478.6 L1358.6 479.3 L1359.5 480.1 L1360.5 480.8 L1361.4 481.6 L1362.4 482.4 L1363.4 483.1 L1364.3 483.9 L1365.3 484.5 L1366.2 485.2 L1367.2 485.8 L1368.2 486.4 L1369.1 487.3 L1370.1 488.1 L1371.0 489.0 L1372.0 489.7 L1373.0 490.5 L1373.9 491.3 L1374.9 492.1 L1375.8 492.8 L1376.8 493.5 L1377.8 494.3 L1378.7 495.0 L1379.7 495.7 L1380.6 496.4 L1381.6 497.0 L1382.6 497.6 L1383.5 498.3 L1384.5 499.0 L1385.4 499.6 L1386.4 500.3 L1387.4 500.8 L1388.3 501.4 L1389.3 501.9 L1390.2 502.5 L1391.2 503.1 L1392.2 503.7 L1393.1 504.3 L1394.1 504.9 L1395.0 505.7 L1396.0 506.4 L1397.0 507.1 L1397.9 508.0 L1398.9 508.9 L1399.8 510.3 L1400.8 511.9" stroke="#78b878" stroke-width="1.4" opacity="0.8" fill="none"/>
<path d="M101.9 565.0 L102.9 563.3 L103.8 561.5 L104.8 559.9 L105.8 558.7 L106.7 556.8 L107.7 555.3 L108.6 553.2 L109.6 551.5 L110.6 549.5 L111.5 548.1 L112.5 546.6 L113.4 545.4 L114.4 543.8 L115.4 542.3 L116.3 541.1 L117.3 539.4 L118.2 538.3 L119.2 536.8 L120.2 535.3 L121.1 533.9 L122.1 532.3 L123.0 531.5 L124.0 530.5 L125.0 529.3 L125.9 528.0 L126.9 527.1 L127.8 525.9 L128.8 524.8 L129.8 523.5 L130.7 522.0 L131.7 520.4 L132.6 519.0 L133.6 517.1 L134.6 515.0 L135.5 513.0 L136.5 511.5 L137.4 510.0 L138.4 508.4 L139.4 506.7 L140.3 505.9 L141.3 505.1 L142.2 504.6 L143.2 504.5 L144.2 504.6 L145.1 504.6 L146.1 504.4 L147.0 504.4 L148.0 504.6 L149.0 504.9 L149.9 505.1 L150.9 505.6 L151.8 505.4 L152.8 505.9 L153.8 506.2 L154.7 506.7 L155.7 507.3 L156.6 507.7 L157.6 508.2 L158.6 509.0 L159.5 509.3 L160.5 509.7 L161.4 510.3 L162.4 510.4 L163.4 510.6 L164.3 510.7 L165.3 510.8 L166.2 510.6 L167.2 510.5 L168.2 510.1 L169.1 509.4 L170.1 508.6 L171.0 507.7 L172.0 506.8 L173.0 505.6 L173.9 504.6 L174.9 503.7 L175.8 503.2 L176.8 502.6 L177.8 502.3 L178.7 502.3 L179.7 502.2 L180.6 501.5 L181.6 501.4 L182.6 501.5 L183.5 501.4 L184.5 501.3 L185.4 501.1 L186.4 501.3 L187.4 500.8 L188.3 500.7 L189.3 500.9 L190.2 500.7 L191.2 500.2 L192.2 499.7 L193.1 499.5 L194.1 499.2 L195.0 498.7 L196.0 498.0 L197.0 497.8 L197.9 496.8 L198.9 495.6 L199.8 494.0 L200.8 492.4 L201.8 490.6 L202.7 488.8 L203.7 487.0 L204.6 485.1 L205.6 483.5 L206.6 481.7 L207.5 480.3 L208.5 479.2 L209.4 478.1 L210.4 476.8 L211.4 475.4 L212.3 474.2 L213.3 472.9 L214.2 471.6 L215.2 471.0 L216.2 470.4 L217.1 469.6 L218.1 469.4 L219.0 468.8 L220.0 468.0 L221.0 466.8 L221.9 465.6 L222.9 465.0 L223.8 464.0 L224.8 463.0 L225.8 462.4 L226.7 461.6 L227.7 461.1 L228.6 460.4 L229.6 459.9 L230.6 459.7 L231.5 458.9 L232.5 458.4 L233.4 457.3 L234.4 456.7 L235.4 455.7 L236.3 455.3 L237.3 455.1 L238.2 454.8 L239.2 454.5 L240.2 454.9 L241.1 455.7 L242.1 456.5 L243.0 457.4 L244.0 457.5 L245.0 457.7 L245.9 457.4 L246.9 457.1 L247.8 457.1 L248.8 456.4 L249.8 456.4 L250.7 456.5 L251.7 456.7 L252.6 456.7 L253.6 456.4 L254.6 456.4 L255.5 456.4 L256.5 456.6 L257.4 456.9 L258.4 457.4 L259.4 458.1 L260.3 459.1 L261.3 460.2 L262.2 461.0 L263.2 462.3 L264.2 463.7 L265.1 464.7 L266.1 465.7 L267.0 467.2 L268.0 468.6 L269.0 469.9 L269.9 471.3 L270.9 472.4 L271.8 473.8 L272.8 475.1 L273.8 476.5 L274.7 478.5 L275.7 480.2 L276.6 482.3 L277.6 483.9 L278.6 486.2 L279.5 488.7 L280.5 490.4 L281.4 492.8 L282.4 495.3 L283.4 498.0 L284.3 500.9 L285.3 504.0 L286.2 507.3 L287.2 510.5 L288.2 513.3 L289.1 515.6 L290.1 518.3 L291.0 520.2 L292.0 522.3 L293.0 524.2 L293.9 526.4 L294.9 528.6 L295.8 530.4 L296.8 532.3 L297.8 534.4 L298.7 536.6 L299.7 538.6 L300.6 540.5 L301.6 542.4 L302.6 544.2 L303.5 546.5 L304.5 549.0 L305.4 551.3 L306.4 554.1 L307.4 556.9 L308.3 559.8 L309.3 563.3 L310.2 566.9 L311.2 569.9 L312.2 572.6 L313.1 574.8 L314.1 576.7 L315.0 578.5 L316.0 581.0 L317.0 583.9 L317.9 587.2 L318.9 590.3 L319.8 593.6 L320.8 597.1 L321.8 599.9 L322.7 602.6 L323.7 605.3 L324.6 607.2 L325.6 609.0 L326.6 610.1 L327.5 611.0 L328.5 611.3 L329.4 611.4 L330.4 611.4 L331.4 611.5 L332.3 611.5 L333.3 611.9 L334.2 612.6 L335.2 613.4 L336.2 614.0 L337.1 615.0 L338.1 615.5 L339.0 615.8 L340.0 616.3 L341.0 616.1 L341.9 615.7 L342.9 615.3 L343.8 615.0 L344.8 615.1 L345.8 615.0 L346.7 615.2 L347.7 615.4 L348.6 615.7 L349.6 615.8 L350.6 615.6 L351.5 615.6 L352.5 615.3 L353.4 615.0 L354.4 614.1 L355.4 613.0 L356.3 611.7 L357.3 610.8 L358.2 610.3 L359.2 609.9 L360.2 609.6 L361.1 609.2 L362.1 608.2 L363.0 607.2 L364.0 606.2 L365.0 605.9 L365.9 605.7 L366.9 605.2 L367.8 605.0 L368.8 604.9 L369.8 605.1 L370.7 605.6 L371.7 605.6 L372.6 605.5 L373.6 605.3 L374.6 604.7 L375.5 604.5 L376.5 604.3 L377.4 604.4 L378.4 604.5 L379.4 604.4 L380.3 604.6 L381.3 604.9 L382.2 605.4 L383.2 605.8 L384.2 606.3 L385.1 606.4 L386.1 606.2 L387.0 606.2 L388.0 605.9 L389.0 605.3 L389.9 604.6 L390.9 604.5 L391.8 604.1 L392.8 603.9 L393.8 604.6 L394.7 605.7 L395.7 607.1 L396.6 608.3 L397.6 609.7 L398.6 611.2 L399.5 612.4 L400.5 614.1 L401.4 615.5 L402.4 617.2 L403.4 618.8 L404.3 620.5 L405.3 622.7 L406.2 624.4 L407.2 626.9 L408.2 629.2 L409.1 631.3 L410.1 632.8 L411.0 634.1 L412.0 635.6 L413.0 636.6 L413.9 638.0 L414.9 638.8 L415.8 640.0 L416.8 641.3 L417.8 642.6 L418.7 644.0 L419.7 645.4 L420.6 646.7 L421.6 648.2 L422.6 650.3 L423.5 652.5 L424.5 654.6 L425.4 657.2 L426.4 659.9 L427.4 662.8 L428.3 665.4 L429.3 667.9 L430.2 670.9 L431.2 673.8 L432.2 676.6 L433.1 679.5 L434.1 681.9 L435.0 683.9 L436.0 685.3 L437.0 686.1 L437.9 686.7 L438.9 687.1 L439.8 687.4 L440.8 687.9 L441.8 688.9 L442.7 690.2 L443.7 691.4 L444.6 692.9 L445.6 694.8 L446.6 697.1 L447.5 699.1 L448.5 702.0 L449.4 704.8 L450.4 707.7 L451.4 710.3 L452.3 712.1 L453.3 713.9 L454.2 715.3 L455.2 717.0 L456.2 717.9 L457.1 718.7 L458.1 719.3 L459.0 720.4 L460.0 721.2 L461.0 722.0 L461.9 722.7 L462.9 723.6 L463.8 724.6 L464.8 725.8 L465.8 727.1 L466.7 728.3 L467.7 728.9 L468.6 729.3 L469.6 729.5 L470.6 730.0 L471.5 730.8 L472.5 731.4 L473.4 732.8 L474.4 734.5 L475.4 735.9 L476.3 736.9 L477.3 737.5 L478.2 737.9 L479.2 738.7 L480.2 739.4 L481.1 740.0 L482.1 740.1 L483.0 740.1 L484.0 740.1 L485.0 740.4 L485.9 740.9 L486.9 741.2 L487.8 741.2 L488.8 741.6 L489.8 741.9 L490.7 742.3 L491.7 742.7 L492.6 743.0 L493.6 743.2 L494.6 743.2 L495.5 743.2 L496.5 743.0 L497.4 742.6 L498.4 742.5 L499.4 742.1 L500.3 741.9 L501.3 741.1 L502.2 740.8 L503.2 740.0 L504.2 739.1 L505.1 738.3 L506.1 737.3 L507.0 736.2 L508.0 735.0 L509.0 733.6 L509.9 732.3 L510.9 730.7 L511.8 729.4 L512.8 728.2 L513.8 727.2 L514.7 726.1 L515.7 725.3 L516.6 724.9 L517.6 724.5 L518.6 724.4 L519.5 724.1 L520.5 723.6 L521.4 723.2 L522.4 722.8 L523.4 722.5 L524.3 722.2 L525.3 722.0 L526.2 721.7 L527.2 721.2 L528.2 720.4 L529.1 719.6 L530.1 718.9 L531.0 718.2 L532.0 717.4 L533.0 716.4 L533.9 715.7 L534.9 714.9 L535.8 714.5 L536.8 713.9 L537.8 712.8 L538.7 711.9 L539.7 710.3 L540.6 709.0 L541.6 707.3 L542.6 705.7 L543.5 704.2 L544.5 702.6 L545.4 700.6 L546.4 698.5 L547.4 696.5 L548.3 695.0 L549.3 693.6 L550.2 692.0 L551.2 690.7 L552.2 688.5 L553.1 686.3 L554.1 683.9 L555.0 681.5 L556.0 678.8 L557.0 675.7 L557.9 672.4 L558.9 669.2 L559.8 665.9 L560.8 662.9 L561.8 659.3 L562.7 656.0 L563.7 653.8 L564.6 651.4 L565.6 648.9 L566.6 646.8 L567.5 644.7 L568.5 643.1 L569.4 641.4 L570.4 640.2 L571.4 638.8 L572.3 637.0 L573.3 635.3 L574.2 633.4 L575.2 631.3 L576.2 629.2 L577.1 626.7 L578.1 623.8 L579.0 620.9 L580.0 617.8 L581.0 614.3 L581.9 610.8 L582.9 607.2 L583.8 603.6 L584.8 599.9 L585.8 596.5 L586.7 592.7 L587.7 588.8 L588.6 585.0 L589.6 581.1 L590.6 576.9 L591.5 573.1 L592.5 568.9 L593.4 564.7 L594.4 560.1 L595.4 556.4 L596.3 553.5 L597.3 551.0 L598.2 548.3 L599.2 546.0 L600.2 543.5 L601.1 541.6 L602.1 539.6 L603.0 537.8 L604.0 536.9 L605.0 535.3 L605.9 535.2 L606.9 535.3 L607.8 535.4 L608.8 536.3 L609.8 537.1 L610.7 537.2 L611.7 537.6 L612.6 537.3 L613.6 536.7 L614.6 536.4 L615.5 535.9 L616.5 535.3 L617.4 534.7 L618.4 534.7 L619.4 535.3 L620.3 535.7 L621.3 536.1 L622.2 535.8 L623.2 535.4 L624.2 535.1 L625.1 534.3 L626.1 533.4 L627.0 532.2 L628.0 530.9 L629.0 529.5 L629.9 528.2 L630.9 526.8 L631.8 525.3 L632.8 522.9 L633.8 520.5 L634.7 518.3 L635.7 516.4 L636.6 515.0 L637.6 512.9 L638.6 511.5 L639.5 510.0 L640.5 508.1 L641.4 506.2 L642.4 504.6 L643.4 502.9 L644.3 501.4 L645.3 499.3 L646.2 497.5 L647.2 496.1 L648.2 494.8 L649.1 493.6 L650.1 492.1 L651.0 491.2 L652.0 490.3 L653.0 489.8 L653.9 489.0 L654.9 488.2 L655.8 488.0 L656.8 487.9 L657.8 487.1 L658.7 486.9 L659.7 486.9 L660.6 486.3 L661.6 485.3 L662.6 485.4 L663.5 485.3 L664.5 485.2 L665.4 484.7 L666.4 484.3 L667.4 484.3 L668.3 483.9 L669.3 483.5 L670.2 483.5 L671.2 483.0 L672.2 483.1 L673.1 483.0 L674.1 483.1 L675.0 482.9 L676.0 483.1 L677.0 482.9 L677.9 483.2 L678.9 483.4 L679.8 484.0 L680.8 484.3 L681.8 485.2 L682.7 486.4 L683.7 487.0 L684.6 487.6 L685.6 488.1 L686.6 488.8 L687.5 489.0 L688.5 489.1 L689.4 489.1 L690.4 489.6 L691.4 489.4 L692.3 489.9 L693.3 490.4 L694.2 491.0 L695.2 491.7 L696.2 492.5 L697.1 493.5 L698.1 494.1 L699.0 495.2 L700.0 496.7 L701.0 497.7 L701.9 498.6 L702.9 499.1 L703.8 499.4 L704.8 499.3 L705.8 498.8 L706.7 497.5 L707.7 497.0 L708.6 496.5 L709.6 496.4 L710.6 496.3 L711.5 496.2 L712.5 496.7 L713.4 497.1 L714.4 497.1 L715.4 496.9 L716.3 496.4 L717.3 495.6 L718.2 494.8 L719.2 494.2 L720.2 493.5 L721.1 492.9 L722.1 492.4 L723.0 492.1 L724.0 491.9 L725.0 491.8 L725.9 491.7 L726.9 491.8 L727.8 491.5 L728.8 491.4 L729.8 490.8 L730.7 490.4 L731.7 489.2 L732.6 488.2 L733.6 486.8 L734.6 485.4 L735.5 484.0 L736.5 482.9 L737.4 481.5 L738.4 480.1 L739.4 478.9 L740.3 478.0 L741.3 477.0 L742.2 476.2 L743.2 475.3 L744.2 474.6 L745.1 474.1 L746.1 473.5 L747.0 472.3 L748.0 471.2 L749.0 470.0 L749.9 469.1 L750.9 467.8 L751.8 465.8 L752.8 463.8 L753.8 461.6 L754.7 459.5 L755.7 457.2 L756.6 455.4 L757.6 453.7 L758.6 451.9 L759.5 449.9 L760.5 448.1 L761.4 446.4 L762.4 444.2 L763.4 441.4 L764.3 438.6 L765.3 435.3 L766.2 432.5 L767.2 429.7 L768.2 427.4 L769.1 426.0 L770.1 425.0 L771.0 424.0 L772.0 424.2 L773.0 423.3 L773.9 421.8 L774.9 419.2 L775.8 417.3 L776.8 414.1 L777.8 410.7 L778.7 407.3 L779.7 403.9 L780.6 399.9 L781.6 396.5 L782.6 393.0 L783.5 390.5 L784.5 389.2 L785.4 387.2 L786.4 385.6 L787.4 384.1 L788.3 382.9 L789.3 381.4 L790.2 379.7 L791.2 378.7 L792.2 377.2 L793.1 375.8 L794.1 373.6 L795.0 371.2 L796.0 368.6 L797.0 365.2 L797.9 362.6 L798.9 360.2 L799.8 357.6 L800.8 354.9 L801.8 352.1 L802.7 349.3 L803.7 346.9 L804.6 344.9 L805.6 342.1 L806.6 339.3 L807.5 336.6 L808.5 333.9 L809.4 331.1 L810.4 328.5 L811.4 326.4 L812.3 324.5 L813.3 322.4 L814.2 319.8 L815.2 317.1 L816.2 314.8 L817.1 313.0 L818.1 312.0 L819.0 311.7 L820.0 311.5 L821.0 312.7 L821.9 314.4 L822.9 316.8 L823.8 320.0 L824.8 323.6 L825.8 328.5 L826.7 334.8 L827.7 343.1 L828.6 353.4 L829.6 364.5 L830.6 374.4 L831.5 382.1 L832.5 388.7 L833.4 397.2 L834.4 405.0 L835.4 412.2 L836.3 418.9 L837.3 424.8 L838.2 430.4 L839.2 434.4 L840.2 439.8 L841.1 444.4 L842.1 450.0 L843.0 454.5 L844.0 460.2 L845.0 466.1 L845.9 471.9 L846.9 476.4 L847.8 480.7 L848.8 485.6 L849.8 488.2 L850.7 490.9 L851.7 492.6 L852.6 493.8 L853.6 494.7 L854.6 495.2 L855.5 495.2 L856.5 494.5 L857.4 493.4 L858.4 491.8 L859.4 489.5 L860.3 487.5 L861.3 485.7 L862.2 483.4 L863.2 481.3 L864.2 479.0 L865.1 476.4 L866.1 474.3 L867.0 471.8 L868.0 469.2 L869.0 466.2 L869.9 462.9 L870.9 459.6 L871.8 456.4 L872.8 452.9 L873.8 449.2 L874.7 445.4 L875.7 441.2 L876.6 437.6 L877.6 433.0 L878.6 428.0 L879.5 423.0 L880.5 417.9 L881.4 413.5 L882.4 409.1 L883.4 405.4 L884.3 402.2 L885.3 398.9 L886.2 396.1 L887.2 394.1 L888.2 392.4 L889.1 390.0 L890.1 386.9 L891.0 384.3 L892.0 382.4 L893.0 381.1 L893.9 380.0 L894.9 378.6 L895.8 377.4 L896.8 375.3 L897.8 373.4 L898.7 372.0 L899.7 369.8 L900.6 367.4 L901.6 365.0 L902.6 362.8 L903.5 360.2 L904.5 357.4 L905.4 355.9 L906.4 354.8 L907.4 354.2 L908.3 354.2 L909.3 355.8 L910.2 358.2 L911.2 358.8 L912.2 360.0 L913.1 360.4 L914.1 360.4 L915.0 360.7 L916.0 360.9 L917.0 360.1 L917.9 358.8 L918.9 358.0 L919.8 357.3 L920.8 356.3 L921.8 355.7 L922.7 354.4 L923.7 352.6 L924.6 350.1 L925.6 347.0 L926.6 343.5 L927.5 339.2 L928.5 335.4 L929.4 332.0 L930.4 327.2 L931.4 322.7 L932.3 319.4 L933.3 316.2 L934.2 313.3 L935.2 309.6 L936.2 306.2 L937.1 302.7 L938.1 299.3 L939.0 295.7 L940.0 292.6 L941.0 289.8 L941.9 286.5 L942.9 284.0 L943.8 281.4 L944.8 279.0 L945.8 276.2 L946.7 273.6 L947.7 271.5 L948.6 269.6 L949.6 267.5 L950.6 264.9 L951.5 261.8 L952.5 258.2 L953.4 254.3 L954.4 250.8 L955.4 246.4 L956.3 241.9 L957.3 237.3 L958.2 234.0 L959.2 231.1 L960.2 227.7 L961.1 225.1 L962.1 221.9 L963.0 218.6 L964.0 215.5 L965.0 213.2 L965.9 210.5 L966.9 207.8 L967.8 204.2 L968.8 200.9 L969.8 199.2 L970.7 198.4 L971.7 197.0 L972.6 195.4 L973.6 193.7 L974.6 193.0 L975.5 193.7 L976.5 195.1 L977.4 197.6 L978.4 199.5 L979.4 199.8 L980.3 198.7 L981.3 196.9 L982.2 196.2 L983.2 197.1 L984.2 198.5 L985.1 200.0 L986.1 200.1 L987.0 200.6 L988.0 200.5 L989.0 200.1 L989.9 199.6 L990.9 198.7 L991.8 197.7 L992.8 196.8 L993.8 195.1 L994.7 193.2 L995.7 191.0 L996.6 189.0 L997.6 187.2 L998.6 186.1 L999.5 185.2 L1000.5 184.4 L1001.4 184.1 L1002.4 183.6 L1003.4 183.0 L1004.3 182.9 L1005.3 183.7 L1006.2 183.9 L1007.2 184.5 L1008.2 185.2 L1009.1 186.7 L1010.1 189.5 L1011.0 191.4 L1012.0 192.9 L1013.0 193.2 L1013.9 193.5 L1014.9 193.8 L1015.8 193.5 L1016.8 192.9 L1017.8 192.2 L1018.7 192.1 L1019.7 191.1 L1020.6 190.0 L1021.6 189.7 L1022.6 189.2 L1023.5 188.8 L1024.5 188.3 L1025.4 188.0 L1026.4 188.0 L1027.4 188.3 L1028.3 188.7 L1029.3 188.2 L1030.2 187.7 L1031.2 187.9 L1032.2 187.1 L1033.1 186.5 L1034.1 185.9 L1035.0 185.4 L1036.0 184.6 L1037.0 183.7 L1037.9 182.6 L1038.9 182.1 L1039.8 181.0 L1040.8 180.9 L1041.8 180.9 L1042.7 181.1 L1043.7 180.7 L1044.6 180.9 L1045.6 181.5 L1046.6 182.0 L1047.5 181.7 L1048.5 181.9 L1049.4 181.6 L1050.4 181.6 L1051.4 181.2 L1052.3 181.0 L1053.3 180.7 L1054.2 181.0 L1055.2 181.2 L1056.2 181.3 L1057.1 181.9 L1058.1 183.2 L1059.0 184.5 L1060.0 187.4 L1061.0 190.5 L1061.9 193.4 L1062.9 196.9 L1063.8 200.9 L1064.8 204.5 L1065.8 208.8 L1066.7 213.3 L1067.7 217.2 L1068.6 221.9 L1069.6 225.7 L1070.6 230.1 L1071.5 233.1 L1072.5 236.3 L1073.4 239.2 L1074.4 241.7 L1075.4 244.5 L1076.3 246.9 L1077.3 248.6 L1078.2 249.6 L1079.2 250.8 L1080.2 251.0 L1081.1 251.5 L1082.1 252.6 L1083.0 254.2 L1084.0 256.0 L1085.0 258.0 L1085.9 260.6 L1086.9 263.1 L1087.8 265.9 L1088.8 268.7 L1089.8 271.3 L1090.7 273.5 L1091.7 276.1 L1092.6 278.4 L1093.6 280.8 L1094.6 283.5 L1095.5 285.6 L1096.5 288.0 L1097.4 289.2 L1098.4 290.5 L1099.4 291.4 L1100.3 292.1 L1101.3 293.0 L1102.2 294.0 L1103.2 294.3 L1104.2 294.1 L1105.1 294.3 L1106.1 294.0 L1107.0 294.3 L1108.0 294.0 L1109.0 293.6 L1109.9 293.7 L1110.9 293.5 L1111.8 293.3 L1112.8 292.7 L1113.8 292.2 L1114.7 291.4 L1115.7 291.0 L1116.6 290.8 L1117.6 291.1 L1118.6 291.3 L1119.5 291.8 L1120.5 292.0 L1121.4 292.9 L1122.4 293.6 L1123.4 294.3 L1124.3 295.1 L1125.3 296.3 L1126.2 297.7 L1127.2 299.7 L1128.2 301.7 L1129.1 303.5 L1130.1 306.1 L1131.0 308.2 L1132.0 310.5 L1133.0 313.0 L1133.9 315.7 L1134.9 318.4 L1135.8 321.3 L1136.8 324.6 L1137.8 328.4 L1138.7 331.9 L1139.7 334.8 L1140.6 337.8 L1141.6 341.2 L1142.6 345.2 L1143.5 348.4 L1144.5 352.6 L1145.4 357.3 L1146.4 361.7 L1147.4 366.0 L1148.3 370.3 L1149.3 374.5 L1150.2 377.7 L1151.2 380.5 L1152.2 382.8 L1153.1 385.6 L1154.1 387.6 L1155.0 389.1 L1156.0 391.0 L1157.0 392.8 L1157.9 394.8 L1158.9 396.8 L1159.8 399.1 L1160.8 401.5 L1161.8 404.3 L1162.7 406.8 L1163.7 409.6 L1164.6 412.5 L1165.6 415.6 L1166.6 418.4 L1167.5 421.4 L1168.5 424.4 L1169.4 427.3 L1170.4 430.9 L1171.4 434.6 L1172.3 438.3 L1173.3 441.6 L1174.2 445.5 L1175.2 448.5 L1176.2 451.8 L1177.1 454.4 L1178.1 456.9 L1179.0 458.8 L1180.0 460.7 L1181.0 463.6 L1181.9 466.1 L1182.9 468.0 L1183.8 469.7 L1184.8 471.5 L1185.8 473.3 L1186.7 475.2 L1187.7 477.1 L1188.6 479.2 L1189.6 481.2 L1190.6 483.2 L1191.5 485.8 L1192.5 488.0 L1193.4 490.1 L1194.4 491.8 L1195.4 493.3 L1196.3 494.3 L1197.3 495.1 L1198.2 495.1 L1199.2 495.0 L1200.2 494.6 L1201.1 493.9 L1202.1 493.2 L1203.0 492.5 L1204.0 491.8 L1205.0 491.3 L1205.9 491.0 L1206.9 491.0 L1207.8 491.7 L1208.8 492.7 L1209.8 493.8 L1210.7 494.9 L1211.7 495.3 L1212.6 495.5 L1213.6 495.5 L1214.6 495.4 L1215.5 495.2 L1216.5 494.9 L1217.4 494.8 L1218.4 494.4 L1219.4 493.8 L1220.3 493.0 L1221.3 492.1 L1222.2 491.8 L1223.2 491.4 L1224.2 491.1 L1225.1 490.4 L1226.1 489.8 L1227.0 489.2 L1228.0 489.1 L1229.0 488.5 L1229.9 488.2 L1230.9 487.6 L1231.8 486.8 L1232.8 486.7 L1233.8 487.0 L1234.7 487.5 L1235.7 488.4 L1236.6 489.1 L1237.6 490.1 L1238.6 490.9 L1239.5 491.8 L1240.5 492.4 L1241.4 492.8 L1242.4 492.8 L1243.4 492.5 L1244.3 492.7 L1245.3 492.0 L1246.2 491.1 L1247.2 490.4 L1248.2 489.6 L1249.1 489.0 L1250.1 488.7 L1251.0 488.2 L1252.0 488.4 L1253.0 488.3 L1253.9 488.7 L1254.9 488.8 L1255.8 488.9 L1256.8 489.3 L1257.8 489.9 L1258.7 490.2 L1259.7 490.2 L1260.6 490.5 L1261.6 490.5 L1262.6 490.2 L1263.5 490.4 L1264.5 490.3 L1265.4 490.0 L1266.4 489.3 L1267.4 487.9 L1268.3 485.9 L1269.3 484.2 L1270.2 482.5 L1271.2 480.8 L1272.2 479.2 L1273.1 477.7 L1274.1 475.9 L1275.0 474.1 L1276.0 472.8 L1277.0 471.8 L1277.9 471.2 L1278.9 470.9 L1279.8 470.5 L1280.8 470.4 L1281.8 470.2 L1282.7 470.0 L1283.7 470.4 L1284.6 471.0 L1285.6 471.5 L1286.6 472.1 L1287.5 472.5 L1288.5 472.8 L1289.4 472.7 L1290.4 472.3 L1291.4 471.7 L1292.3 470.6 L1293.3 469.2 L1294.2 468.3 L1295.2 467.5 L1296.2 467.2 L1297.1 466.7 L1298.1 466.3 L1299.0 466.3 L1300.0 466.2 L1301.0 466.2 L1301.9 466.4 L1302.9 466.7 L1303.8 467.0 L1304.8 467.5 L1305.8 467.8 L1306.7 468.6 L1307.7 469.4 L1308.6 470.3 L1309.6 471.3 L1310.6 472.2 L1311.5 473.5 L1312.5 474.5 L1313.4 475.7 L1314.4 476.9 L1315.4 478.1 L1316.3 479.4 L1317.3 480.2 L1318.2 481.4 L1319.2 482.8 L1320.2 484.2 L1321.1 485.7 L1322.1 487.2 L1323.0 488.6 L1324.0 490.0 L1325.0 491.7 L1325.9 493.5 L1326.9 494.8 L1327.8 496.4 L1328.8 498.1 L1329.8 499.4 L1330.7 500.9 L1331.7 502.2 L1332.6 503.1 L1333.6 503.5 L1334.6 503.9 L1335.5 504.4 L1336.5 504.5 L1337.4 505.6 L1338.4 506.6 L1339.4 508.2 L1340.3 510.3 L1341.3 511.6 L1342.2 512.6 L1343.2 513.2 L1344.2 513.8 L1345.1 514.3 L1346.1 514.8 L1347.0 515.3 L1348.0 516.1 L1349.0 516.9 L1349.9 517.9 L1350.9 518.6 L1351.8 519.2 L1352.8 519.9 L1353.8 520.7 L1354.7 521.2 L1355.7 521.8 L1356.6 522.7 L1357.6 523.7 L1358.6 524.9 L1359.5 526.1 L1360.5 527.3 L1361.4 528.5 L1362.4 529.8 L1363.4 530.8 L1364.3 532.0 L1365.3 532.7 L1366.2 533.2 L1367.2 533.8 L1368.2 534.4 L1369.1 535.8 L1370.1 537.2 L1371.0 538.7 L1372.0 539.8 L1373.0 541.0 L1373.9 542.2 L1374.9 543.0 L1375.8 544.1 L1376.8 544.7 L1377.8 545.8 L1378.7 546.7 L1379.7 547.4 L1380.6 548.0 L1381.6 548.4 L1382.6 548.6 L1383.5 549.4 L1384.5 550.2 L1385.4 550.7 L1386.4 551.2 L1387.4 551.5 L1388.3 551.7 L1389.3 551.7 L1390.2 552.0 L1391.2 552.4 L1392.2 552.8 L1393.1 553.6 L1394.1 554.0 L1395.0 555.1 L1396.0 555.9 L1397.0 556.9 L1397.9 558.2 L1398.9 560.0 L1399.8 563.2 L1400.8 567.7" stroke="#dc5252" stroke-width="1.35" opacity="0.82" fill="none"/>
<path d="M73.1 571.4 L74.1 574.6 L75.0 576.4 L76.0 577.3 L77.0 579.1 L77.9 579.5 L78.9 579.2 L79.8 580.6 L80.8 582.0 L81.8 582.9 L82.7 583.8 L83.7 583.8 L84.6 582.6 L85.6 582.2 L86.6 581.9 L87.5 580.4 L88.5 578.6 L89.4 577.0 L90.4 573.1 L91.4 569.5 L92.3 565.1 L93.3 561.5 L94.2 558.8 L95.2 556.2 L96.2 554.9 L97.1 553.0 L98.1 551.4 L99.0 549.4 L100.0 548.3 L101.0 545.7 L101.9 543.2 L102.9 541.1 L103.8 538.7 L104.8 537.1 L105.8 536.4 L106.7 534.0 L107.7 532.3 L108.6 529.6 L109.6 527.7 L110.6 525.0 L111.5 524.0 L112.5 522.7 L113.4 522.0 L114.4 520.3 L115.4 518.9 L116.3 518.1 L117.3 516.4 L118.2 515.8 L119.2 514.3 L120.2 512.7 L121.1 511.6 L122.1 509.9 L123.0 510.0 L124.0 509.7 L125.0 508.7 L125.9 507.5 L126.9 507.3 L127.8 506.1 L128.8 505.3 L129.8 504.0 L130.7 502.3 L131.7 500.4 L132.6 498.9 L133.6 496.1 L134.6 493.1 L135.5 490.3 L136.5 488.7 L137.4 487.3 L138.4 485.5 L139.4 483.6 L140.3 483.8 L141.3 484.2 L142.2 484.9 L143.2 486.5 L144.2 488.5 L145.1 489.9 L146.1 490.9 L147.0 492.3 L148.0 493.9 L149.0 495.5 L149.9 496.9 L150.9 498.9 L151.8 499.2 L152.8 500.8 L153.8 502.0 L154.7 503.8 L155.7 505.5 L156.6 506.6 L157.6 508.0 L158.6 509.9 L159.5 510.6 L160.5 511.4 L161.4 512.6 L162.4 512.8 L163.4 512.9 L164.3 513.0 L165.3 513.1 L166.2 512.3 L167.2 511.8 L168.2 510.8 L169.1 509.0 L170.1 507.2 L171.0 505.0 L172.0 503.2 L173.0 500.6 L173.9 498.6 L174.9 496.9 L175.8 496.4 L176.8 495.7 L177.8 495.6 L178.7 496.2 L179.7 496.5 L180.6 495.4 L181.6 495.7 L182.6 496.6 L183.5 496.7 L184.5 497.0 L185.4 496.9 L186.4 497.8 L187.4 497.0 L188.3 497.0 L189.3 497.9 L190.2 497.6 L191.2 496.7 L192.2 495.9 L193.1 495.8 L194.1 495.5 L195.0 494.4 L196.0 493.1 L197.0 493.1 L197.9 491.2 L198.9 488.8 L199.8 485.6 L200.8 482.5 L201.8 479.0 L202.7 475.7 L203.7 472.7 L204.6 469.4 L205.6 466.9 L206.6 464.2 L207.5 462.6 L208.5 461.4 L209.4 460.6 L210.4 459.0 L211.4 457.3 L212.3 456.2 L213.3 454.6 L214.2 453.3 L215.2 453.5 L216.2 453.8 L217.1 453.4 L218.1 454.5 L219.0 454.3 L220.0 453.8 L221.0 452.4 L221.9 450.8 L222.9 450.8 L223.8 449.7 L224.8 448.6 L225.8 448.4 L226.7 447.9 L227.7 448.1 L228.6 447.6 L229.6 447.5 L230.6 448.2 L231.5 447.3 L232.5 447.3 L233.4 445.7 L234.4 445.2 L235.4 444.0 L236.3 444.0 L237.3 444.8 L238.2 444.9 L239.2 445.1 L240.2 447.0 L241.1 449.7 L242.1 452.3 L243.0 454.9 L244.0 455.2 L245.0 455.9 L245.9 455.4 L246.9 454.9 L247.8 455.0 L248.8 453.6 L249.8 454.0 L250.7 454.4 L251.7 455.0 L252.6 455.1 L253.6 454.6 L254.6 454.9 L255.5 455.0 L256.5 455.6 L257.4 456.5 L258.4 457.6 L259.4 459.3 L260.3 461.6 L261.3 463.9 L262.2 465.6 L263.2 468.3 L264.2 471.3 L265.1 472.8 L266.1 474.6 L267.0 477.3 L268.0 479.8 L269.0 481.9 L269.9 484.2 L270.9 485.5 L271.8 487.7 L272.8 489.6 L273.8 491.5 L274.7 494.9 L275.7 497.6 L276.6 500.9 L277.6 503.0 L278.6 506.9 L279.5 511.0 L280.5 513.0 L281.4 516.6 L282.4 520.4 L283.4 524.5 L284.3 529.1 L285.3 533.9 L286.2 539.2 L287.2 543.8 L288.2 547.6 L289.1 549.9 L290.1 553.1 L291.0 554.4 L292.0 556.3 L293.0 557.6 L293.9 559.8 L294.9 561.8 L295.8 563.2 L296.8 564.7 L297.8 566.7 L298.7 569.0 L299.7 570.7 L300.6 572.2 L301.6 573.9 L302.6 575.2 L303.5 577.9 L304.5 580.9 L305.4 583.6 L306.4 587.1 L307.4 590.8 L308.3 594.8 L309.3 599.7 L310.2 605.2 L311.2 608.7 L312.2 611.6 L313.1 613.2 L314.1 614.1 L315.0 615.0 L316.0 617.6 L317.0 621.2 L317.9 625.7 L318.9 629.6 L319.8 633.7 L320.8 638.3 L321.8 641.3 L322.7 643.9 L323.7 646.5 L324.6 647.3 L325.6 647.7 L326.6 646.7 L327.5 645.4 L328.5 642.8 L329.4 640.1 L330.4 637.4 L331.4 635.2 L332.3 633.0 L333.3 631.9 L334.2 631.7 L335.2 631.8 L336.2 631.5 L337.1 632.3 L338.1 631.8 L339.0 631.0 L340.0 630.6 L341.0 629.0 L341.9 626.7 L342.9 624.6 L343.8 623.0 L344.8 622.4 L345.8 621.7 L346.7 621.5 L347.7 621.4 L348.6 621.4 L349.6 621.1 L350.6 620.2 L351.5 619.8 L352.5 618.7 L353.4 617.6 L354.4 615.2 L355.4 612.4 L356.3 609.4 L357.3 607.3 L358.2 606.5 L359.2 605.9 L360.2 605.4 L361.1 605.0 L362.1 603.0 L363.0 600.9 L364.0 599.2 L365.0 599.1 L365.9 599.2 L366.9 598.7 L367.8 598.7 L368.8 599.0 L369.8 600.1 L370.7 601.9 L371.7 602.1 L372.6 602.3 L373.6 602.1 L374.6 601.0 L375.5 600.8 L376.5 600.7 L377.4 601.3 L378.4 601.8 L379.4 601.8 L380.3 602.5 L381.3 603.5 L382.2 604.9 L383.2 605.9 L384.2 607.0 L385.1 607.1 L386.1 606.7 L387.0 606.6 L388.0 605.8 L389.0 604.5 L389.9 602.9 L390.9 602.7 L391.8 602.0 L392.8 601.6 L393.8 603.6 L394.7 606.3 L395.7 609.6 L396.6 612.4 L397.6 615.3 L398.6 618.5 L399.5 620.7 L400.5 623.9 L401.4 626.4 L402.4 629.5 L403.4 632.3 L404.3 635.2 L405.3 639.0 L406.2 641.7 L407.2 646.0 L408.2 649.9 L409.1 653.1 L410.1 654.4 L411.0 655.7 L412.0 657.3 L413.0 657.5 L413.9 658.9 L414.9 658.9 L415.8 659.9 L416.8 661.2 L417.8 662.4 L418.7 663.9 L419.7 665.5 L420.6 666.6 L421.6 668.4 L422.6 671.5 L423.5 674.9 L424.5 677.9 L425.4 682.0 L426.4 686.3 L427.4 690.7 L428.3 694.5 L429.3 697.7 L430.2 702.1 L431.2 706.2 L432.2 709.9 L433.1 713.8 L434.1 716.4 L435.0 717.9 L436.0 718.0 L437.0 716.9 L437.9 715.4 L438.9 713.7 L439.8 711.8 L440.8 710.9 L441.8 711.0 L442.7 712.1 L443.7 713.0 L444.6 714.6 L445.6 717.0 L446.6 720.5 L447.5 723.2 L448.5 727.9 L449.4 732.3 L450.4 736.7 L451.4 740.1 L452.3 741.7 L453.3 743.4 L454.2 743.9 L455.2 745.2 L456.2 744.8 L457.1 744.0 L458.1 743.2 L459.0 743.7 L460.0 743.4 L461.0 743.1 L461.9 742.8 L462.9 743.1 L463.8 743.7 L464.8 744.9 L465.8 746.1 L466.7 747.2 L467.7 746.9 L468.6 746.2 L469.6 745.1 L470.6 744.8 L471.5 745.4 L472.5 745.3 L473.4 747.3 L474.4 750.1 L475.4 752.0 L476.3 752.9 L477.3 752.8 L478.2 752.5 L479.2 752.9 L480.2 753.4 L481.1 753.3 L482.1 752.4 L483.0 751.2 L484.0 750.2 L485.0 750.0 L485.9 750.3 L486.9 750.1 L487.8 749.2 L488.8 749.5 L489.8 749.5 L490.7 749.7 L491.7 749.9 L492.6 750.0 L493.6 749.8 L494.6 749.1 L495.5 748.6 L496.5 747.6 L497.4 746.3 L498.4 745.7 L499.4 744.4 L500.3 743.5 L501.3 741.6 L502.2 740.8 L503.2 738.8 L504.2 736.7 L505.1 735.0 L506.1 732.9 L507.0 730.7 L508.0 728.2 L509.0 725.5 L509.9 723.1 L510.9 720.1 L511.8 718.1 L512.8 716.1 L513.8 714.8 L514.7 713.4 L515.7 712.6 L516.6 712.8 L517.6 713.1 L518.6 713.8 L519.5 714.2 L520.5 713.8 L521.4 713.7 L522.4 713.8 L523.4 714.0 L524.3 714.0 L525.3 714.4 L526.2 714.4 L527.2 713.7 L528.2 712.6 L529.1 711.4 L530.1 710.4 L531.0 709.5 L532.0 708.3 L533.0 706.9 L533.9 706.1 L534.9 705.0 L535.8 704.9 L536.8 704.5 L537.8 702.8 L538.7 701.4 L539.7 698.5 L540.6 696.6 L541.6 693.6 L542.6 691.0 L543.5 688.7 L544.5 686.4 L545.4 683.0 L546.4 679.6 L547.4 676.5 L548.3 674.8 L549.3 673.3 L550.2 671.4 L551.2 670.3 L552.2 666.9 L553.1 663.6 L554.1 659.8 L555.0 656.3 L556.0 652.1 L557.0 647.2 L557.9 641.9 L558.9 637.0 L559.8 632.2 L560.8 627.9 L561.8 622.6 L562.7 618.2 L563.7 616.3 L564.6 614.1 L565.6 611.6 L566.6 609.9 L567.5 608.5 L568.5 608.0 L569.4 607.2 L570.4 607.5 L571.4 607.3 L572.3 606.0 L573.3 604.8 L574.2 603.0 L575.2 600.7 L576.2 598.7 L577.1 595.4 L578.1 591.4 L579.0 587.5 L580.0 583.1 L581.0 578.0 L581.9 572.9 L582.9 567.8 L583.8 562.8 L584.8 557.7 L585.8 553.3 L586.7 548.4 L587.7 543.2 L588.6 538.3 L589.6 533.0 L590.6 527.4 L591.5 523.0 L592.5 517.7 L593.4 512.2 L594.4 506.1 L595.4 502.3 L596.3 500.5 L597.3 499.3 L598.2 497.6 L599.2 497.0 L600.2 495.5 L601.1 495.6 L602.1 495.1 L603.0 494.9 L604.0 496.8 L605.0 496.8 L605.9 500.2 L606.9 503.8 L607.8 507.1 L608.8 511.9 L609.8 516.2 L610.7 518.4 L611.7 521.1 L612.6 521.9 L613.6 522.0 L614.6 522.6 L615.5 522.8 L616.5 522.5 L617.4 522.4 L618.4 523.5 L619.4 526.1 L620.3 528.0 L621.3 529.6 L622.2 529.6 L623.2 529.0 L624.2 529.0 L625.1 527.5 L626.1 526.0 L627.0 523.8 L628.0 521.4 L629.0 519.1 L629.9 516.9 L630.9 514.5 L631.8 512.1 L632.8 507.4 L633.8 503.0 L634.7 499.5 L635.7 496.7 L636.6 495.0 L637.6 491.8 L638.6 490.5 L639.5 488.8 L640.5 486.2 L641.4 483.6 L642.4 481.9 L643.4 480.0 L644.3 478.5 L645.3 475.6 L646.2 473.4 L647.2 472.3 L648.2 471.5 L649.1 470.9 L650.1 469.3 L651.0 469.2 L652.0 469.1 L653.0 470.0 L653.9 470.1 L654.9 469.7 L655.8 471.1 L656.8 472.5 L657.8 472.1 L658.7 473.0 L659.7 474.2 L660.6 473.9 L661.6 472.8 L662.6 474.1 L663.5 475.0 L664.5 475.8 L665.4 475.5 L666.4 475.4 L667.4 476.1 L668.3 475.9 L669.3 475.7 L670.2 476.6 L671.2 476.0 L672.2 477.0 L673.1 477.3 L674.1 478.0 L675.0 478.0 L676.0 479.1 L677.0 478.9 L677.9 480.0 L678.9 480.7 L679.8 482.4 L680.8 483.4 L681.8 485.7 L682.7 488.4 L683.7 489.8 L684.6 491.0 L685.6 491.8 L686.6 493.1 L687.5 493.4 L688.5 493.1 L689.4 492.7 L690.4 493.7 L691.4 492.8 L692.3 493.6 L693.3 494.6 L694.2 495.6 L695.2 496.9 L696.2 498.3 L697.1 500.1 L698.1 500.9 L699.0 503.1 L700.0 506.0 L701.0 507.5 L701.9 508.6 L702.9 508.9 L703.8 508.8 L704.8 507.6 L705.8 505.7 L706.7 501.7 L707.7 500.2 L708.6 498.7 L709.6 498.1 L710.6 497.7 L711.5 497.4 L712.5 498.5 L713.4 499.3 L714.4 499.2 L715.4 498.4 L716.3 497.0 L717.3 495.1 L718.2 493.2 L719.2 491.8 L720.2 490.3 L721.1 489.1 L722.1 488.5 L723.0 487.9 L724.0 487.9 L725.0 488.0 L725.9 488.2 L726.9 488.7 L727.8 488.2 L728.8 488.3 L729.8 487.3 L730.7 486.5 L731.7 484.1 L732.6 482.1 L733.6 479.2 L734.6 476.6 L735.5 474.1 L736.5 472.2 L737.4 469.9 L738.4 467.7 L739.4 466.0 L740.3 465.0 L741.3 463.7 L742.2 463.0 L743.2 462.0 L744.2 461.7 L745.1 461.8 L746.1 461.3 L747.0 459.7 L748.0 458.2 L749.0 456.6 L749.9 455.6 L750.9 453.6 L751.8 450.3 L752.8 446.8 L753.8 443.2 L754.7 439.7 L755.7 436.0 L756.6 433.7 L757.6 431.8 L758.6 429.4 L759.5 426.6 L760.5 424.6 L761.4 422.5 L762.4 419.6 L763.4 415.0 L764.3 410.7 L765.3 405.5 L766.2 401.4 L767.2 397.7 L768.2 395.2 L769.1 394.8 L770.1 395.3 L771.0 395.6 L772.0 399.0 L773.0 399.1 L773.9 397.7 L774.9 393.9 L775.8 391.6 L776.8 386.3 L777.8 380.6 L778.7 375.2 L779.7 370.0 L780.6 363.6 L781.6 358.8 L782.6 353.8 L783.5 351.5 L784.5 352.0 L785.4 350.8 L786.4 350.3 L787.4 350.0 L788.3 350.4 L789.3 349.8 L790.2 348.7 L791.2 349.2 L792.2 348.5 L793.1 347.8 L794.1 345.1 L795.0 342.0 L796.0 338.4 L797.0 333.0 L797.9 329.7 L798.9 327.1 L799.8 323.9 L800.8 320.7 L801.8 317.0 L802.7 313.6 L803.7 311.0 L804.6 309.7 L805.6 306.3 L806.6 302.9 L807.5 299.8 L808.5 296.7 L809.4 293.5 L810.4 290.6 L811.4 289.3 L812.3 288.2 L813.3 286.5 L814.2 283.6 L815.2 280.6 L816.2 278.4 L817.1 277.5 L818.1 278.5 L819.0 280.8 L820.0 283.3 L821.0 288.9 L821.9 295.3 L822.9 303.1 L823.8 312.1 L824.8 321.6 L825.8 333.6 L826.7 348.4 L827.7 367.3 L828.6 390.1 L829.6 413.6 L830.6 432.8 L831.5 446.0 L832.5 456.1 L833.4 470.1 L834.4 482.1 L835.4 492.4 L836.3 501.0 L837.3 507.5 L838.2 513.2 L839.2 515.0 L840.2 520.4 L841.1 523.9 L842.1 529.9 L843.0 533.2 L844.0 539.7 L845.0 546.3 L845.9 552.9 L846.9 556.0 L847.8 559.0 L848.8 563.3 L849.8 562.2 L850.7 561.8 L851.7 559.2 L852.6 555.8 L853.6 551.9 L854.6 547.7 L855.5 542.7 L856.5 536.6 L857.4 529.8 L858.4 522.4 L859.4 514.1 L860.3 506.7 L861.3 500.6 L862.2 493.6 L863.2 487.6 L864.2 481.3 L865.1 474.8 L866.1 469.8 L867.0 464.2 L868.0 458.6 L869.0 452.3 L869.9 445.7 L870.9 439.3 L871.8 433.4 L872.8 427.0 L873.8 420.7 L874.7 414.1 L875.7 406.9 L876.6 401.5 L877.6 393.6 L878.6 385.3 L879.5 377.2 L880.5 369.3 L881.4 363.2 L882.4 357.3 L883.4 353.2 L884.3 350.4 L885.3 347.4 L886.2 345.4 L887.2 345.4 L888.2 345.9 L889.1 344.6 L890.1 341.4 L891.0 339.2 L892.0 339.0 L893.0 340.1 L893.9 341.1 L894.9 341.5 L895.8 342.1 L896.8 340.4 L897.8 339.1 L898.7 338.9 L899.7 336.7 L900.6 334.2 L901.6 331.5 L902.6 329.3 L903.5 326.2 L904.5 322.5 L905.4 322.4 L906.4 322.9 L907.4 324.4 L908.3 327.3 L909.3 333.6 L910.2 341.6 L911.2 344.6 L912.2 349.0 L913.1 350.9 L914.1 351.9 L915.0 353.3 L916.0 354.5 L917.0 353.2 L917.9 350.8 L918.9 349.5 L919.8 348.8 L920.8 347.1 L921.8 346.6 L922.7 344.3 L923.7 340.8 L924.6 335.9 L925.6 329.7 L926.6 322.9 L927.5 314.4 L928.5 307.4 L929.4 301.8 L930.4 293.1 L931.4 285.4 L932.3 280.9 L933.3 277.0 L934.2 273.6 L935.2 268.4 L936.2 264.0 L937.1 259.4 L938.1 255.3 L939.0 250.9 L940.0 247.7 L941.0 245.0 L941.9 241.2 L942.9 239.5 L943.8 237.4 L944.8 235.9 L945.8 233.0 L946.7 231.0 L947.7 229.8 L948.6 229.2 L949.6 228.1 L950.6 225.3 L951.5 221.7 L952.5 216.8 L953.4 211.3 L954.4 206.9 L955.4 200.4 L956.3 193.8 L957.3 187.2 L958.2 183.9 L959.2 181.6 L960.2 178.1 L961.1 176.6 L962.1 173.3 L963.0 170.1 L964.0 167.0 L965.0 166.2 L965.9 164.1 L966.9 162.0 L967.8 157.5 L968.8 154.0 L969.8 154.4 L970.7 156.6 L971.7 157.1 L972.6 157.2 L973.6 156.7 L974.6 158.4 L975.5 163.5 L976.5 169.7 L977.4 178.2 L978.4 184.7 L979.4 186.9 L980.3 185.4 L981.3 182.4 L982.2 182.0 L983.2 185.5 L984.2 190.0 L985.1 194.5 L986.1 195.3 L987.0 196.8 L988.0 196.9 L989.0 196.3 L989.9 195.5 L990.9 193.8 L991.8 191.7 L992.8 190.2 L993.8 186.6 L994.7 182.9 L995.7 178.6 L996.6 174.9 L997.6 171.8 L998.6 170.5 L999.5 169.8 L1000.5 169.4 L1001.4 170.0 L1002.4 170.2 L1003.4 170.0 L1004.3 171.1 L1005.3 174.1 L1006.2 175.6 L1007.2 177.8 L1008.2 180.2 L1009.1 184.2 L1010.1 191.3 L1011.0 195.7 L1012.0 198.8 L1013.0 199.1 L1013.9 199.3 L1014.9 199.4 L1015.8 198.1 L1016.8 196.3 L1017.8 194.4 L1018.7 193.7 L1019.7 191.3 L1020.6 188.7 L1021.6 187.9 L1022.6 187.0 L1023.5 186.2 L1024.5 185.1 L1025.4 184.8 L1026.4 185.0 L1027.4 186.0 L1028.3 187.1 L1029.3 186.2 L1030.2 185.2 L1031.2 185.9 L1032.2 184.1 L1033.1 183.0 L1034.1 181.8 L1035.0 180.9 L1036.0 179.4 L1037.0 177.7 L1037.9 175.7 L1038.9 175.1 L1039.8 173.2 L1040.8 173.8 L1041.8 174.3 L1042.7 175.3 L1043.7 175.0 L1044.6 176.1 L1045.6 178.0 L1046.6 179.4 L1047.5 179.0 L1048.5 179.7 L1049.4 179.4 L1050.4 179.4 L1051.4 178.6 L1052.3 178.5 L1053.3 178.1 L1054.2 178.9 L1055.2 179.7 L1056.2 179.9 L1057.1 181.6 L1058.1 184.7 L1059.0 187.9 L1060.0 194.5 L1061.0 201.3 L1061.9 207.4 L1062.9 214.5 L1063.8 222.7 L1064.8 229.3 L1065.8 237.5 L1066.7 245.6 L1067.7 251.8 L1068.6 260.0 L1069.6 265.7 L1070.6 272.5 L1071.5 275.7 L1072.5 279.5 L1073.4 282.4 L1074.4 284.3 L1075.4 287.2 L1076.3 288.8 L1077.3 289.0 L1078.2 287.5 L1079.2 286.9 L1080.2 283.8 L1081.1 282.1 L1082.1 281.8 L1083.0 282.9 L1084.0 284.5 L1085.0 286.6 L1085.9 290.3 L1086.9 293.6 L1087.8 297.4 L1088.8 301.2 L1089.8 304.5 L1090.7 306.5 L1091.7 309.7 L1092.6 312.2 L1093.6 314.8 L1094.6 318.1 L1095.5 320.0 L1096.5 322.4 L1097.4 322.1 L1098.4 322.1 L1099.4 321.3 L1100.3 320.2 L1101.3 319.6 L1102.2 319.6 L1103.2 317.7 L1104.2 315.2 L1105.1 313.6 L1106.1 310.9 L1107.0 310.2 L1108.0 307.8 L1109.0 305.5 L1109.9 304.6 L1110.9 303.2 L1111.8 301.8 L1112.8 299.6 L1113.8 297.6 L1114.7 295.1 L1115.7 293.9 L1116.6 293.1 L1117.6 293.6 L1118.6 293.9 L1119.5 294.8 L1120.5 295.0 L1121.4 297.0 L1122.4 298.2 L1123.4 299.5 L1124.3 300.8 L1125.3 303.4 L1126.2 305.9 L1127.2 310.0 L1128.2 314.0 L1129.1 317.3 L1130.1 322.3 L1131.0 325.8 L1132.0 329.6 L1133.0 333.9 L1133.9 338.6 L1134.9 343.0 L1135.8 347.5 L1136.8 353.1 L1137.8 359.5 L1138.7 365.2 L1139.7 369.0 L1140.6 373.1 L1141.6 378.0 L1142.6 384.0 L1143.5 388.1 L1144.5 394.7 L1145.4 402.0 L1146.4 408.4 L1147.4 414.5 L1148.3 420.3 L1149.3 425.7 L1150.2 428.6 L1151.2 430.5 L1152.2 431.3 L1153.1 433.4 L1154.1 433.8 L1155.0 433.0 L1156.0 433.4 L1157.0 433.8 L1157.9 434.7 L1158.9 435.7 L1159.8 437.8 L1160.8 439.8 L1161.8 442.9 L1162.7 445.5 L1163.7 448.4 L1164.6 451.9 L1165.6 455.7 L1166.6 458.5 L1167.5 462.0 L1168.5 465.6 L1169.4 468.6 L1170.4 473.3 L1171.4 478.3 L1172.3 483.1 L1173.3 487.0 L1174.2 492.1 L1175.2 494.9 L1176.2 498.6 L1177.1 500.5 L1178.1 502.0 L1179.0 502.3 L1180.0 502.8 L1181.0 506.0 L1181.9 507.9 L1182.9 508.6 L1183.8 508.9 L1184.8 509.5 L1185.8 510.3 L1186.7 511.3 L1187.7 512.6 L1188.6 514.3 L1189.6 515.8 L1190.6 517.4 L1191.5 520.4 L1192.5 522.4 L1193.4 524.2 L1194.4 525.0 L1195.4 525.7 L1196.3 524.9 L1197.3 524.0 L1198.2 521.2 L1199.2 518.5 L1200.2 515.3 L1201.1 511.5 L1202.1 508.2 L1203.0 505.1 L1204.0 502.2 L1205.0 500.0 L1205.9 498.4 L1206.9 497.7 L1207.8 498.8 L1208.8 500.5 L1209.8 502.5 L1210.7 504.2 L1211.7 504.5 L1212.6 504.1 L1213.6 503.2 L1214.6 502.3 L1215.5 501.0 L1216.5 499.8 L1217.4 499.0 L1218.4 497.6 L1219.4 496.0 L1220.3 493.9 L1221.3 491.6 L1222.2 490.8 L1223.2 490.0 L1224.2 489.4 L1225.1 487.7 L1226.1 486.5 L1227.0 485.4 L1228.0 485.6 L1229.0 484.6 L1229.9 484.2 L1230.9 483.0 L1231.8 481.6 L1232.8 481.8 L1233.8 482.9 L1234.7 484.6 L1235.7 487.1 L1236.6 489.0 L1237.6 491.4 L1238.6 493.0 L1239.5 495.2 L1240.5 496.3 L1241.4 496.7 L1242.4 496.4 L1243.4 495.3 L1244.3 495.6 L1245.3 493.6 L1246.2 491.3 L1247.2 489.6 L1248.2 487.7 L1249.1 486.4 L1250.1 486.0 L1251.0 485.0 L1252.0 485.8 L1253.0 485.9 L1253.9 487.0 L1254.9 487.4 L1255.8 487.8 L1256.8 488.9 L1257.8 490.3 L1258.7 491.1 L1259.7 490.9 L1260.6 491.5 L1261.6 491.4 L1262.6 490.8 L1263.5 491.2 L1264.5 490.7 L1265.4 490.0 L1266.4 488.2 L1267.4 485.0 L1268.3 480.6 L1269.3 476.8 L1270.2 473.3 L1271.2 470.2 L1272.2 467.4 L1273.1 464.7 L1274.1 461.7 L1275.0 458.7 L1276.0 456.8 L1277.0 456.1 L1277.9 456.2 L1278.9 456.7 L1279.8 457.1 L1280.8 458.1 L1281.8 458.8 L1282.7 459.5 L1283.7 461.5 L1284.6 463.7 L1285.6 465.6 L1286.6 467.7 L1287.5 469.0 L1288.5 470.2 L1289.4 470.2 L1290.4 469.3 L1291.4 468.1 L1292.3 465.9 L1293.3 463.0 L1294.2 461.2 L1295.2 460.1 L1296.2 460.0 L1297.1 459.5 L1298.1 459.2 L1299.0 459.8 L1300.0 460.4 L1301.0 460.7 L1301.9 461.8 L1302.9 463.0 L1303.8 464.0 L1304.8 465.6 L1305.8 466.4 L1306.7 468.5 L1307.7 470.5 L1308.6 472.7 L1309.6 474.7 L1310.6 476.8 L1311.5 479.4 L1312.5 481.3 L1313.4 483.4 L1314.4 485.7 L1315.4 487.9 L1316.3 490.0 L1317.3 490.9 L1318.2 492.9 L1319.2 495.2 L1320.2 497.4 L1321.1 499.6 L1322.1 502.0 L1323.0 504.1 L1324.0 505.9 L1325.0 508.5 L1325.9 511.3 L1326.9 512.9 L1327.8 515.0 L1328.8 517.3 L1329.8 518.6 L1330.7 520.5 L1331.7 521.7 L1332.6 522.1 L1333.6 521.4 L1334.6 520.6 L1335.5 520.1 L1336.5 518.9 L1337.4 520.1 L1338.4 521.2 L1339.4 523.8 L1340.3 527.3 L1341.3 528.9 L1342.2 529.6 L1343.2 529.6 L1344.2 529.3 L1345.1 529.2 L1346.1 528.8 L1347.0 528.9 L1348.0 529.5 L1349.0 530.2 L1349.9 531.4 L1350.9 531.8 L1351.8 531.9 L1352.8 532.4 L1353.8 533.0 L1354.7 533.2 L1355.7 533.5 L1356.6 534.5 L1357.6 536.0 L1358.6 537.6 L1359.5 539.3 L1360.5 540.9 L1361.4 542.7 L1362.4 544.4 L1363.4 545.3 L1364.3 546.9 L1365.3 547.1 L1366.2 547.0 L1367.2 547.2 L1368.2 547.5 L1369.1 549.5 L1370.1 551.6 L1371.0 553.9 L1372.0 555.1 L1373.0 556.6 L1373.9 558.0 L1374.9 558.5 L1375.8 559.6 L1376.8 559.8 L1377.8 560.9 L1378.7 561.7 L1379.7 561.8 L1380.6 562.0 L1381.6 561.5 L1382.6 561.0 L1383.5 561.5 L1384.5 562.3 L1385.4 562.4 L1386.4 562.7 L1387.4 562.1 L1388.3 561.8 L1389.3 560.7 L1390.2 560.7 L1391.2 560.7 L1392.2 560.9 L1393.1 562.0 L1394.1 562.2 L1395.0 564.1 L1396.0 565.2 L1397.0 566.7 L1397.9 569.0 L1398.9 572.4 L1399.8 579.0 L1400.8 588.3" stroke="#5a9ee9" stroke-width="1.3" opacity="0.8" fill="none"/>
<path d="M988.1 87.2L1460.5 603.3 M943.1 170.9L1415.7 687.3 M884.4 231.6L1407.9 798.1 M1189.0 460.2L1309.8 416.6 M1176.8 574.7L1324.9 461.5 M813.3 656.0L1414.6 656.0" stroke="#3a3a3a" stroke-width="1.15" fill="none" stroke-linecap="round" opacity="0.8"/>
<rect x="1483.0" y="0" width="1.6" height="920.5" fill="#9a9a9a"/>
<rect x="1" y="895.8" width="1532" height="1.4" fill="#707070"/>
<path d="M1484.0 874.3H1488.0 M1484.0 819.8H1488.0 M1484.0 765.3H1488.0 M1484.0 710.8H1488.0 M1484.0 656.3H1488.0 M1484.0 601.8H1488.0 M1484.0 547.3H1488.0 M1484.0 492.8H1488.0 M1484.0 438.3H1488.0 M1484.0 383.8H1488.0 M1484.0 329.3H1488.0 M1484.0 274.8H1488.0 M1484.0 220.3H1488.0 M1484.0 165.8H1488.0 M1484.0 111.3H1488.0 M1484.0 56.8H1488.0 M1484.0 2.3H1488.0 M89.7 896.5V900.0 M189.9 896.5V900.0 M290.1 896.5V900.0 M390.2 896.5V900.0 M490.4 896.5V900.0 M590.6 896.5V900.0 M690.8 896.5V900.0 M791.0 896.5V900.0 M891.1 896.5V900.0 M991.3 896.5V900.0 M1091.5 896.5V900.0 M1191.7 896.5V900.0 M1291.9 896.5V900.0 M1392.0 896.5V900.0" stroke="#777" stroke-width="1" fill="none"/>
<g font-family='"Liberation Sans", sans-serif' font-size="10" fill="#6a6a6a"><text x="1491.8" y="877.9" textLength="34" lengthAdjust="spacingAndGlyphs">0.40000</text><text x="1491.8" y="823.4" textLength="34" lengthAdjust="spacingAndGlyphs">0.45000</text><text x="1491.8" y="768.9" textLength="34" lengthAdjust="spacingAndGlyphs">0.50000</text><text x="1491.8" y="714.4" textLength="34" lengthAdjust="spacingAndGlyphs">0.55000</text><text x="1491.8" y="659.9" textLength="34" lengthAdjust="spacingAndGlyphs">0.60000</text><text x="1491.8" y="605.4" textLength="34" lengthAdjust="spacingAndGlyphs">0.65000</text><text x="1491.8" y="550.9" textLength="34" lengthAdjust="spacingAndGlyphs">0.70000</text><text x="1491.8" y="496.4" textLength="34" lengthAdjust="spacingAndGlyphs">0.75000</text><text x="1491.8" y="441.9" textLength="34" lengthAdjust="spacingAndGlyphs">0.80000</text><text x="1491.8" y="387.4" textLength="34" lengthAdjust="spacingAndGlyphs">0.85000</text><text x="1491.8" y="332.9" textLength="34" lengthAdjust="spacingAndGlyphs">0.90000</text><text x="1491.8" y="278.4" textLength="34" lengthAdjust="spacingAndGlyphs">0.95000</text><text x="1491.8" y="223.9" textLength="34" lengthAdjust="spacingAndGlyphs">1.00000</text><text x="1491.8" y="169.4" textLength="34" lengthAdjust="spacingAndGlyphs">1.05000</text><text x="1491.8" y="114.9" textLength="34" lengthAdjust="spacingAndGlyphs">1.10000</text><text x="1491.8" y="60.4" textLength="34" lengthAdjust="spacingAndGlyphs">1.15000</text><text x="1491.8" y="5.9" textLength="34" lengthAdjust="spacingAndGlyphs">1.20000</text></g>
<g font-family='"Liberation Sans", sans-serif' font-size="10" fill="#555" stroke="#555" stroke-width="0.35"><text x="89.7" y="912.4" text-anchor="middle" textLength="22" lengthAdjust="spacingAndGlyphs">1994</text><text x="189.9" y="912.4" text-anchor="middle" textLength="22" lengthAdjust="spacingAndGlyphs">1996</text><text x="290.1" y="912.4" text-anchor="middle" textLength="22" lengthAdjust="spacingAndGlyphs">1998</text><text x="390.2" y="912.4" text-anchor="middle" textLength="22" lengthAdjust="spacingAndGlyphs">2000</text><text x="490.4" y="912.4" text-anchor="middle" textLength="22" lengthAdjust="spacingAndGlyphs">2002</text><text x="590.6" y="912.4" text-anchor="middle" textLength="22" lengthAdjust="spacingAndGlyphs">2004</text><text x="690.8" y="912.4" text-anchor="middle" textLength="22" lengthAdjust="spacingAndGlyphs">2006</text><text x="791.0" y="912.4" text-anchor="middle" textLength="22" lengthAdjust="spacingAndGlyphs">2008</text><text x="891.1" y="912.4" text-anchor="middle" textLength="22" lengthAdjust="spacingAndGlyphs">2010</text><text x="991.3" y="912.4" text-anchor="middle" textLength="22" lengthAdjust="spacingAndGlyphs">2012</text><text x="1091.5" y="912.4" text-anchor="middle" textLength="22" lengthAdjust="spacingAndGlyphs">2014</text><text x="1191.7" y="912.4" text-anchor="middle" textLength="22" lengthAdjust="spacingAndGlyphs">2016</text><text x="1291.9" y="912.4" text-anchor="middle" textLength="22" lengthAdjust="spacingAndGlyphs">2018</text><text x="1392.0" y="912.4" text-anchor="middle" textLength="22" lengthAdjust="spacingAndGlyphs">2020</text></g>
<g font-family='"Liberation Sans", sans-serif' font-size="10" font-weight="bold" fill="#fff"><rect x="1484" y="121.6" width="49.5" height="15" fill="#1a0bff"/><path d="M1484 129.1H1488" stroke="#c8c4ff" stroke-width="1"/><text x="1492" y="132.9" textLength="34" lengthAdjust="spacingAndGlyphs">1.08371</text><rect x="1484" y="243.8" width="49.5" height="15" fill="#1a0bff"/><path d="M1484 251.3H1488" stroke="#c8c4ff" stroke-width="1"/><text x="1492" y="255.1" textLength="34" lengthAdjust="spacingAndGlyphs">0.97154</text><rect x="1484" y="283.6" width="49.5" height="15" fill="#1a0bff"/><path d="M1484 291.1H1488" stroke="#c8c4ff" stroke-width="1"/><text x="1492" y="294.9" textLength="34" lengthAdjust="spacingAndGlyphs">0.93507</text><rect x="1484" y="428.7" width="49.5" height="15" fill="#1a0bff"/><path d="M1484 436.2H1488" stroke="#c8c4ff" stroke-width="1"/><text x="1492" y="440.0" textLength="34" lengthAdjust="spacingAndGlyphs">0.80193</text><rect x="1484" y="559.9" width="49.5" height="15" fill="#1a0bff"/><path d="M1484 567.4H1488" stroke="#c8c4ff" stroke-width="1"/><text x="1492" y="571.2" textLength="34" lengthAdjust="spacingAndGlyphs">0.68156</text><rect x="1484" y="636.4" width="49.5" height="15" fill="#1a0bff"/><path d="M1484 643.9H1488" stroke="#c8c4ff" stroke-width="1"/><text x="1492" y="647.7" textLength="34" lengthAdjust="spacingAndGlyphs">0.61134</text><rect x="1484" y="771.6" width="49.5" height="15" fill="#1a0bff"/><path d="M1484 779.1H1488" stroke="#c8c4ff" stroke-width="1"/><text x="1492" y="782.9" textLength="34" lengthAdjust="spacingAndGlyphs">0.48732</text><rect x="1484" y="669.9" width="49.5" height="15" fill="#d9533f"/><path d="M1484 677.4H1488" stroke="#f3c9c2" stroke-width="1"/><text x="1492" y="681.2" textLength="34" lengthAdjust="spacingAndGlyphs">0.58067</text></g>
<rect x="0" y="0" width="1.2" height="924" fill="#dfe2ea"/>
<rect x="1534" y="0" width="2" height="924" fill="#dfe2ea"/>
<rect x="0" y="919" width="1536" height="2" fill="#dfe2ea"/>
<defs><linearGradient id="sh" x1="0" y1="0" x2="0" y2="1"><stop offset="0" stop-color="#e6e9ee"/><stop offset="0.3" stop-color="#c9ccd1"/><stop offset="0.55" stop-color="#e9ebee"/><stop offset="1" stop-color="#ffffff" stop-opacity="0"/></linearGradient></defs>
<rect x="519" y="0" width="273" height="7" fill="url(#sh)"/>
<g font-family='"Liberation Sans", sans-serif'>
<text x="9.4" y="19.6" font-size="13.6" fill="#5f626c" textLength="260" lengthAdjust="spacingAndGlyphs">Australian Dollar / U.S. Dollar · 1W · FXCM</text>
<text x="279.2" y="19.6" font-size="12.4" textLength="46.5" lengthAdjust="spacingAndGlyphs"><tspan fill="#6a6d78">O</tspan><tspan fill="#8a3c3c">0.61374</tspan></text>
<text x="332.8" y="19.6" font-size="12.4" textLength="46.5" lengthAdjust="spacingAndGlyphs"><tspan fill="#6a6d78">H</tspan><tspan fill="#8a3c3c">0.63027</tspan></text>
<text x="386.4" y="19.6" font-size="12.4" textLength="44.9" lengthAdjust="spacingAndGlyphs"><tspan fill="#6a6d78">L</tspan><tspan fill="#8a3c3c">0.55063</tspan></text>
<text x="437.8" y="19.6" font-size="12.4" textLength="46.2" lengthAdjust="spacingAndGlyphs"><tspan fill="#6a6d78">C</tspan><tspan fill="#8a3c3c">0.58067</tspan></text>
<text x="490.5" y="19.6" font-size="12.4" fill="#8a3c3c" textLength="91.1" lengthAdjust="spacingAndGlyphs">−0.03769 (−6.10%)</text>
<rect x="9.9" y="27.1" width="15.6" height="17.2" rx="2" fill="#fff" stroke="#e0e3eb" stroke-width="1"/>
<path d="M14.6 34.2L17.7 37.1L20.8 34.2" stroke="#3c3f4a" stroke-width="1.3" fill="none"/>
<text x="33.3" y="38.8" font-size="12.4" fill="#555862" textLength="70.3" lengthAdjust="spacingAndGlyphs">EMA 200 close</text>
<text x="112" y="38.8" font-size="12.4" fill="#56a85a" textLength="39.6" lengthAdjust="spacingAndGlyphs">0.73223</text>
<text x="33.3" y="59.8" font-size="12.4" fill="#555862" textLength="64.7" lengthAdjust="spacingAndGlyphs">EMA 50 close</text>
<text x="106.2" y="59.8" font-size="12.4" fill="#d23c3c" textLength="39.6" lengthAdjust="spacingAndGlyphs">0.68114</text>
<text x="33.3" y="80.6" font-size="12.4" fill="#b9bcc5" textLength="29.5" lengthAdjust="spacingAndGlyphs">Vol 20</text>
<text x="33.3" y="101.5" font-size="12.4" fill="#555862" textLength="64.7" lengthAdjust="spacingAndGlyphs">EMA 20 close</text>
<text x="106.2" y="101.5" font-size="12.4" fill="#3d84d8" textLength="39.6" lengthAdjust="spacingAndGlyphs">0.66230</text>
</g>
<g fill="none"><path d="M74.4 76.8C76.5 70.8 85.5 70.8 87.6 76.8C85.5 82.8 76.5 82.8 74.4 76.8Z" stroke="#676a75" stroke-width="1.25"/><circle cx="81" cy="77" r="2.1" stroke="#676a75" stroke-width="1.2"/><path d="M76.3 82.2L86.2 71.2" stroke="#fff" stroke-width="2.8"/><path d="M76.3 82.2L86.2 71.2" stroke="#5a5d68" stroke-width="1.25"/></g>
<rect x="1405.2" y="13.6" width="5.5" height="4.6" rx="2" fill="#8f929c"/>
<text x="1413.8" y="19.2" font-family='"Liberation Sans", sans-serif' font-size="10.4" font-style="italic" fill="#a3a6af" textLength="66.4" lengthAdjust="spacingAndGlyphs">Market Closed</text>
<circle cx="1401.5" cy="861.8" r="9.3" fill="#fff" stroke="#f2607c" stroke-width="2.2"/>
<clipPath id="auc"><circle cx="1401.5" cy="861.8" r="7.3"/></clipPath>
<g clip-path="url(#auc)"><rect x="1393" y="853" width="17" height="17" fill="#3f4fb0"/><rect x="1393" y="853" width="8.6" height="9" fill="#eef0f8"/><path d="M1393 853L1401.6 862M1401.6 853L1393 862" stroke="#e05a6a" stroke-width="1.1"/><path d="M1397.3 853V862M1393 857.5H1401.6" stroke="#e04a5a" stroke-width="1.6"/><circle cx="1404.8" cy="858" r="0.8" fill="#fff"/><circle cx="1407" cy="860.8" r="0.8" fill="#fff"/><circle cx="1404.5" cy="865.8" r="0.9" fill="#fff"/><circle cx="1398.3" cy="865.5" r="1" fill="#fff"/><circle cx="1402.6" cy="861.5" r="0.6" fill="#fff"/></g>
<circle cx="1401.8" cy="883.6" r="9.3" fill="#fff" stroke="#f2607c" stroke-width="2.2"/>
<clipPath id="usc"><circle cx="1401.8" cy="883.6" r="7.3"/></clipPath>
<g clip-path="url(#usc)"><rect x="1393" y="875" width="18" height="18" fill="#fff"/><rect x="1393" y="875" width="10.3" height="9.9" fill="#5f95e6"/><path d="M1396.4 875v10M1399 875v10M1401.6 875v10" stroke="#9ec0f2" stroke-width="0.6"/><rect x="1403.3" y="881.2" width="9" height="2.6" fill="#e86070"/><rect x="1393" y="886.4" width="18" height="3.2" fill="#e55565"/></g>
<circle cx="1409.4" cy="876.6" r="4.6" fill="#fff"/>
<text x="1409.4" y="879.6" text-anchor="middle" font-family='"Liberation Sans", sans-serif' font-size="8.5" fill="#3a3d47" stroke="#3a3d47" stroke-width="0.15">4</text>
<circle cx="1507.9" cy="908.3" r="4.6" fill="none" stroke="#3d404a" stroke-width="1.4"/>
<path d="M1512.70 908.30L1514.50 908.30 M1511.29 911.69L1512.57 912.97 M1507.90 913.10L1507.90 914.90 M1504.51 911.69L1503.23 912.97 M1503.10 908.30L1501.30 908.30 M1504.51 904.91L1503.23 903.63 M1507.90 903.50L1507.90 901.70 M1511.29 904.91L1512.57 903.63" stroke="#3d404a" stroke-width="1.6" fill="none"/>
</svg>
</body></html>
